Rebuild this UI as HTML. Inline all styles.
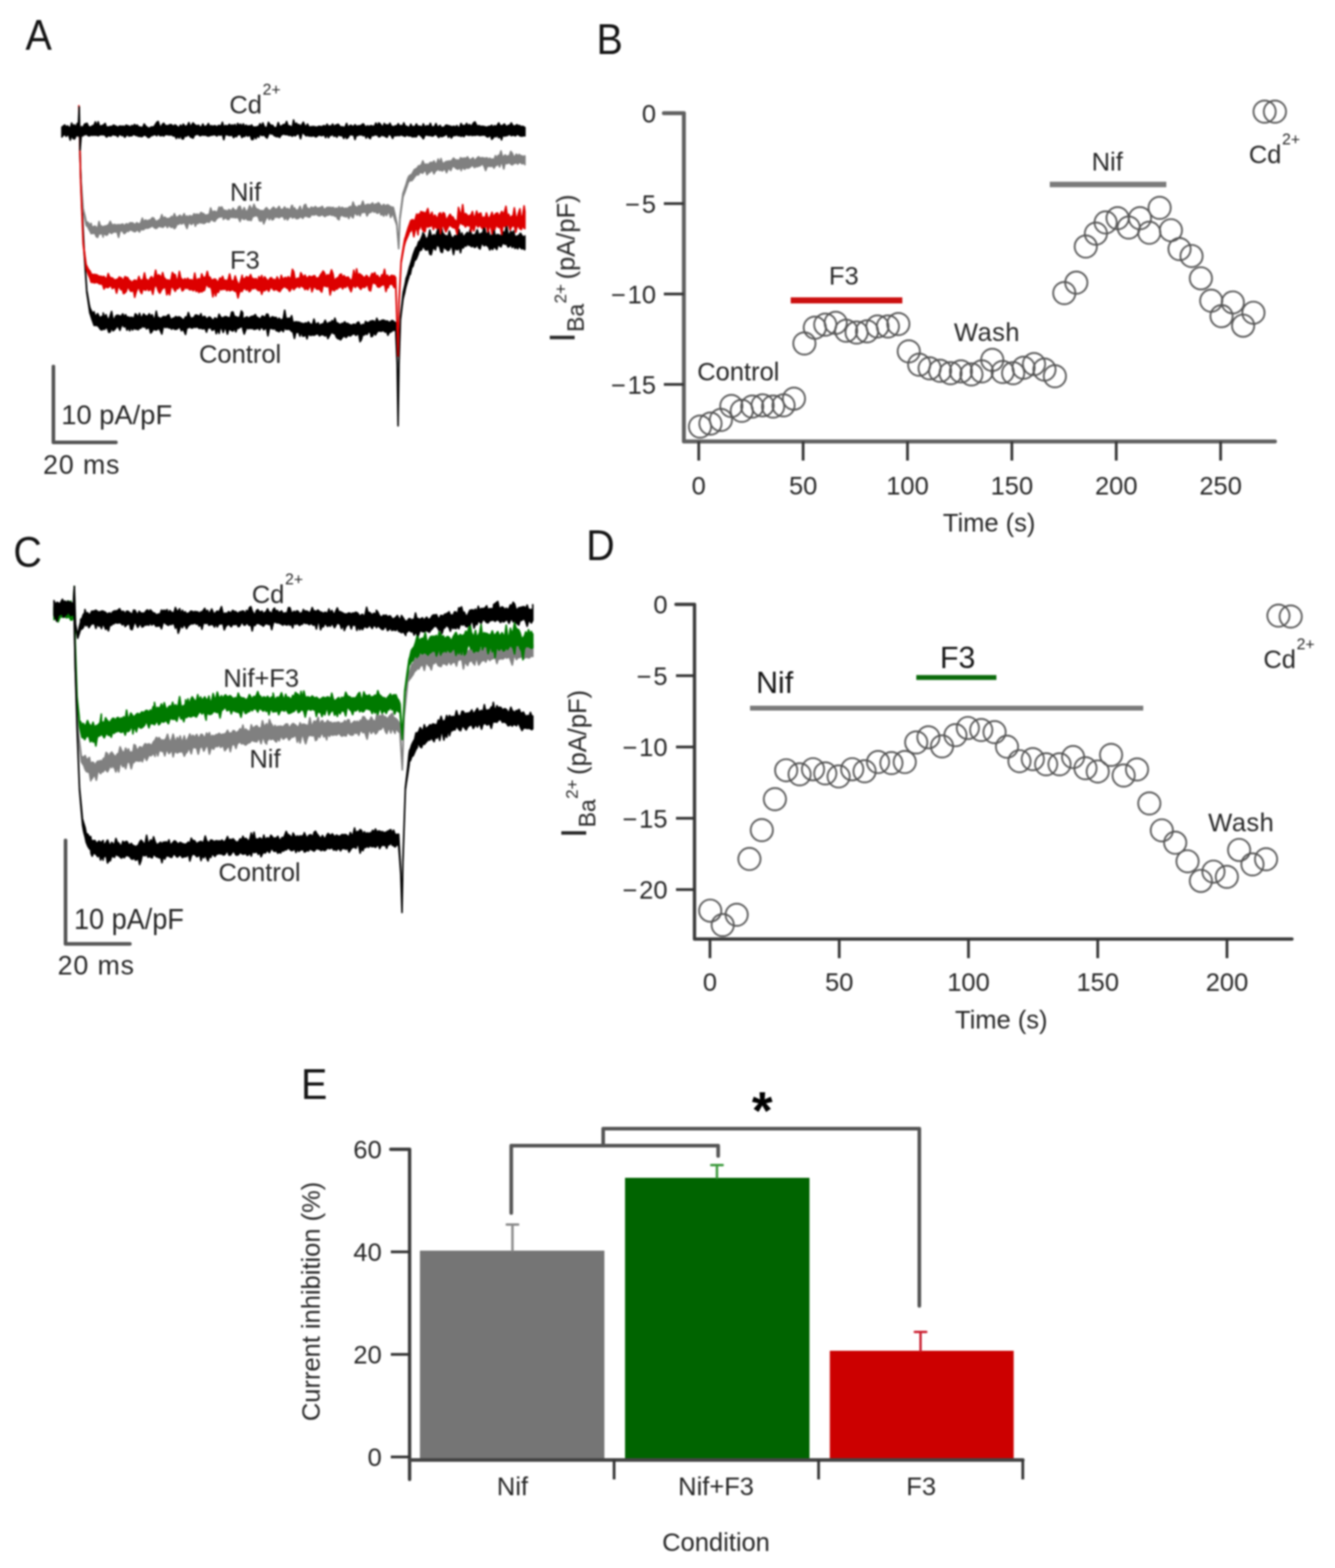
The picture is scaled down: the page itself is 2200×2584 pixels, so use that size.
<!DOCTYPE html>
<html lang="en">
<head>
<meta charset="utf-8">
<title>Figure: F3 and nifedipine inhibition of barium currents</title>
<style>
html,body{margin:0;padding:0;background:#fff;}
body{width:2200px;height:2584px;overflow:hidden;}
svg{display:block;font-family:'Liberation Sans', Arial, Helvetica, sans-serif;}
</style>
</head>
<body>
<svg width="2200" height="2584" viewBox="0 0 2200 2584">
<defs>
<filter id="soft" x="-2%" y="-2%" width="104%" height="104%" color-interpolation-filters="sRGB"><feGaussianBlur stdDeviation="1.5"/></filter>
</defs>
<rect x="0" y="0" width="2200" height="2584" fill="#ffffff"/>
<g filter="url(#soft)">
<g id="panelA">
<text transform="translate(42,82) scale(0.93,1)" font-size="70" fill="#141414">A</text>
<polygon points="131.0,215.2 132.0,258.2 133.3,292.9 135.0,338.2 135.6,350.2 137.9,396.2 139.0,418.2 140.2,436.2 142.5,470.7 143.0,478.2 144.8,488.6 147.1,502.6 148.0,506.4 149.4,510.2 151.7,514.2 154.0,517.0 155.0,513.8 156.3,519.1 158.6,520.5 160.9,516.8 163.2,521.4 165.5,524.1 167.8,521.2 170.0,524.3 170.1,515.9 172.4,523.9 174.7,518.6 177.0,524.9 179.3,526.7 181.6,520.2 183.9,513.3 186.2,525.5 188.5,526.0 190.8,520.8 193.1,519.5 195.4,519.9 197.7,520.7 200.0,521.0 202.3,517.3 204.6,522.6 206.9,518.7 209.2,523.1 211.5,522.2 213.8,523.9 216.1,522.8 218.4,523.8 220.7,524.8 223.0,517.2 225.3,519.1 227.6,524.1 229.9,516.4 232.2,523.8 234.5,521.8 236.8,517.4 239.1,520.2 241.4,520.7 243.7,520.8 246.0,517.1 248.3,522.0 250.6,518.8 252.9,524.8 255.2,525.0 257.5,512.9 259.8,523.6 262.1,523.3 264.4,525.4 266.7,523.7 269.0,521.8 271.3,521.7 273.6,522.8 275.9,520.1 278.2,518.7 280.5,524.7 282.8,526.5 285.1,524.4 287.4,524.2 289.7,521.6 292.0,523.5 294.3,522.1 296.6,522.8 298.9,524.6 301.2,527.0 303.5,526.4 305.8,522.1 308.1,523.8 310.4,515.1 312.7,521.6 315.0,525.3 317.3,523.8 319.6,523.4 321.9,519.4 324.2,519.3 326.5,520.4 328.8,522.0 331.1,517.0 333.4,525.2 335.7,521.6 338.0,521.8 340.3,526.6 342.6,524.0 344.9,522.4 347.2,523.7 349.5,527.0 351.8,527.6 354.1,523.8 356.4,525.2 358.7,526.2 361.0,517.8 363.3,522.2 365.6,523.9 367.9,523.7 370.2,522.1 372.5,521.7 374.8,523.1 377.1,523.4 379.4,524.3 381.7,514.6 384.0,514.2 386.3,521.6 388.6,521.8 390.9,522.9 393.2,523.8 395.5,521.8 397.8,512.4 400.0,515.4 400.1,525.1 402.4,524.7 404.7,523.3 407.0,522.2 409.3,524.9 411.6,523.0 413.9,521.8 416.2,521.2 418.5,520.6 420.8,518.5 423.1,522.8 425.4,523.4 427.7,526.2 430.0,524.2 432.3,520.8 434.6,521.7 436.9,524.1 439.2,517.9 441.5,517.9 443.8,524.1 446.1,524.9 448.4,522.1 450.7,522.8 453.0,523.2 455.3,523.2 457.6,528.5 459.9,524.4 462.2,526.8 464.5,527.1 466.8,525.4 469.1,511.3 470.0,516.1 471.4,524.6 473.7,525.1 476.0,524.4 478.3,525.5 480.6,520.3 482.9,531.7 485.2,531.1 487.5,530.4 489.8,530.7 492.1,530.9 494.4,531.6 495.0,533.3 496.7,532.6 499.0,533.3 501.3,533.8 503.6,532.1 505.9,533.6 508.2,530.4 510.5,533.6 512.8,534.9 515.1,534.3 517.4,525.9 519.7,534.3 522.0,533.9 524.3,532.0 526.6,537.9 528.9,534.6 531.2,533.9 533.5,533.1 535.8,527.8 538.1,532.8 540.4,533.7 542.7,531.1 545.0,531.9 547.3,528.3 549.6,531.7 551.9,524.4 554.2,532.2 556.5,532.2 558.8,534.5 560.0,534.3 561.1,535.9 563.4,532.8 565.7,533.4 568.0,530.3 570.3,533.5 572.6,532.8 574.9,534.4 577.2,535.3 579.5,536.5 581.8,534.5 584.1,534.4 586.4,536.0 588.7,531.9 591.0,530.5 593.3,535.2 595.6,537.0 597.9,534.4 600.2,536.9 602.5,529.7 604.8,532.1 607.1,531.2 609.4,531.3 610.0,529.4 611.7,529.3 614.0,528.6 616.3,529.2 618.6,532.8 620.9,524.5 623.2,529.7 625.5,529.6 627.8,528.9 630.1,527.5 632.0,528.2 632.4,527.5 634.7,529.0 637.0,529.0 639.3,529.6 641.6,532.2 643.9,530.0 646.2,528.1 648.5,529.6 650.8,531.4 652.0,531.6 653.1,561.1 654.5,598.2 655.4,658.2 656.0,698.2 657.5,598.2 657.7,592.2 660.0,523.2 662.3,501.6 664.0,486.2 664.6,481.3 666.9,471.5 668.0,466.6 669.2,459.1 671.5,453.0 673.8,444.2 675.0,439.5 676.1,436.4 678.4,428.5 680.7,420.3 683.0,413.8 685.3,408.1 687.6,405.8 689.9,398.3 690.0,398.8 692.2,396.6 694.5,391.8 696.8,385.9 697.0,383.6 699.1,386.2 701.4,393.1 703.7,393.3 706.0,389.9 708.3,379.1 710.6,387.8 712.9,389.1 715.2,386.7 717.5,391.1 719.8,383.2 722.1,376.1 724.4,390.4 726.7,365.5 729.0,382.7 731.3,385.9 733.6,388.5 735.9,388.5 738.2,390.4 740.5,380.8 742.8,388.4 745.1,391.9 747.4,391.6 749.7,388.2 752.0,392.2 754.3,380.7 756.6,378.3 758.9,389.6 760.0,390.0 761.2,383.8 763.5,390.5 765.8,388.6 768.1,385.3 770.4,383.0 772.7,387.8 775.0,377.9 777.3,388.3 779.6,386.8 781.9,387.7 784.2,384.5 786.5,378.7 788.8,386.8 791.1,385.6 793.4,384.8 795.7,382.9 798.0,372.8 800.3,383.5 802.6,387.2 804.9,380.0 807.2,390.2 809.5,387.6 811.8,390.2 814.1,377.4 816.4,390.9 818.7,386.9 821.0,386.6 823.3,387.6 825.6,390.4 827.9,381.0 830.2,383.0 832.5,382.5 834.8,370.9 837.1,385.2 839.4,386.7 841.7,381.2 844.0,385.4 846.3,380.5 848.6,390.2 850.9,389.4 853.2,388.8 855.5,387.2 857.8,384.3 860.1,388.3 862.4,390.1 864.7,392.9 865.0,388.8 865.0,410.0 864.7,411.5 862.4,409.1 860.1,410.2 857.8,408.2 855.5,404.9 853.2,410.1 850.9,406.8 848.6,409.4 846.3,403.7 844.0,407.8 841.7,402.1 839.4,406.0 837.1,407.0 834.8,401.7 832.5,402.6 830.2,401.1 827.9,401.2 825.6,406.8 823.3,405.1 821.0,402.5 818.7,411.2 816.4,408.2 814.1,406.2 811.8,411.2 809.5,407.5 807.2,411.9 804.9,406.4 802.6,405.0 800.3,402.5 798.0,405.1 795.7,402.1 793.4,401.7 791.1,410.3 788.8,408.4 786.5,402.1 784.2,406.8 781.9,407.7 779.6,404.3 777.3,406.7 775.0,404.3 772.7,404.3 770.4,401.6 768.1,405.7 765.8,404.2 763.5,408.6 761.2,407.4 760.0,411.1 758.9,416.6 756.6,405.6 754.3,411.5 752.0,411.1 749.7,406.8 747.4,419.4 745.1,408.0 742.8,405.5 740.5,411.4 738.2,413.2 735.9,410.8 733.6,409.4 731.3,404.3 729.0,416.1 726.7,415.1 724.4,406.7 722.1,404.9 719.8,403.1 717.5,411.9 715.2,408.4 712.9,410.3 710.6,419.8 708.3,418.8 706.0,408.2 703.7,412.0 701.4,411.8 699.1,408.2 697.0,403.9 696.8,405.8 694.5,412.0 692.2,412.6 690.0,414.9 689.9,416.7 687.6,422.9 685.3,427.9 683.0,429.5 680.7,438.5 678.4,441.5 676.1,452.1 675.0,451.3 673.8,456.1 671.5,463.7 669.2,471.7 668.0,476.3 666.9,482.2 664.6,490.9 664.0,494.0 662.3,507.8 660.0,526.8 657.7,595.8 657.5,601.8 656.0,701.8 655.4,661.8 654.5,601.8 653.1,568.9 652.0,543.2 650.8,544.3 648.5,544.1 646.2,545.3 643.9,547.2 641.6,547.4 639.3,552.5 637.0,546.0 634.7,547.3 632.4,545.1 632.0,544.7 630.1,545.2 627.8,546.0 625.5,545.5 623.2,545.3 620.9,548.0 618.6,552.0 616.3,546.9 614.0,553.9 611.7,554.7 610.0,546.2 609.4,547.4 607.1,547.0 604.8,551.2 602.5,549.1 600.2,552.1 597.9,551.1 595.6,559.7 593.3,563.1 591.0,549.5 588.7,551.0 586.4,552.7 584.1,549.5 581.8,550.5 579.5,551.6 577.2,553.8 574.9,552.0 572.6,553.7 570.3,556.2 568.0,554.1 565.7,554.2 563.4,557.2 561.1,560.1 560.0,552.7 558.8,558.7 556.5,557.8 554.2,555.3 551.9,549.5 549.6,549.7 547.3,547.2 545.0,549.5 542.7,553.6 540.4,558.0 538.1,550.4 535.8,553.7 533.5,551.9 531.2,551.5 528.9,551.5 526.6,553.5 524.3,550.2 522.0,549.9 519.7,551.4 517.4,552.5 515.1,551.7 512.8,552.6 510.5,552.2 508.2,549.3 505.9,558.4 503.6,550.9 501.3,553.7 499.0,554.0 496.7,548.4 495.0,550.0 494.4,554.0 492.1,547.2 489.8,547.7 487.5,547.7 485.2,557.7 482.9,547.3 480.6,546.2 478.3,543.5 476.0,542.3 473.7,542.8 471.4,542.8 470.0,538.8 469.1,539.5 466.8,546.5 464.5,543.4 462.2,544.2 459.9,546.7 457.6,545.4 455.3,544.8 453.0,540.4 450.7,542.4 448.4,541.5 446.1,540.7 443.8,542.3 441.5,553.5 439.2,540.2 436.9,541.6 434.6,543.4 432.3,539.8 430.0,539.4 427.7,543.6 425.4,539.9 423.1,541.7 420.8,542.3 418.5,542.9 416.2,540.5 413.9,541.5 411.6,540.4 409.3,541.8 407.0,538.9 404.7,544.5 402.4,550.5 400.1,542.2 400.0,537.2 397.8,538.6 395.5,539.0 393.2,541.1 390.9,540.5 388.6,546.9 386.3,540.1 384.0,545.4 381.7,544.7 379.4,543.2 377.1,542.1 374.8,550.7 372.5,542.6 370.2,540.0 367.9,547.8 365.6,541.4 363.3,539.4 361.0,549.4 358.7,541.1 356.4,549.9 354.1,540.0 351.8,543.2 349.5,544.3 347.2,539.4 344.9,540.5 342.6,539.9 340.3,547.4 338.0,541.3 335.7,541.4 333.4,542.0 331.1,540.2 328.8,541.4 326.5,539.7 324.2,538.2 321.9,539.7 319.6,538.3 317.3,540.7 315.0,540.4 312.7,538.1 310.4,540.3 308.1,539.4 305.8,551.1 303.5,546.0 301.2,542.0 298.9,545.1 296.6,539.7 294.3,539.8 292.0,542.0 289.7,542.7 287.4,542.5 285.1,539.9 282.8,542.5 280.5,539.9 278.2,540.4 275.9,538.4 273.6,539.7 271.3,539.0 269.0,538.8 266.7,550.4 264.4,545.3 262.1,541.0 259.8,542.5 257.5,543.9 255.2,543.3 252.9,541.9 250.6,546.4 248.3,548.9 246.0,540.4 243.7,540.1 241.4,541.9 239.1,537.5 236.8,539.1 234.5,536.8 232.2,540.7 229.9,540.6 227.6,543.3 225.3,541.9 223.0,542.4 220.7,540.1 218.4,543.9 216.1,538.3 213.8,545.0 211.5,539.4 209.2,544.0 206.9,536.4 204.6,538.8 202.3,535.2 200.0,537.3 197.7,544.3 195.4,539.6 193.1,536.8 190.8,540.8 188.5,543.5 186.2,545.1 183.9,539.0 181.6,547.0 179.3,547.7 177.0,541.0 174.7,539.5 172.4,542.8 170.1,539.0 170.0,542.5 167.8,543.7 165.5,542.8 163.2,539.1 160.9,536.6 158.6,536.3 156.3,536.2 155.0,536.1 154.0,533.0 151.7,526.9 149.4,519.7 148.0,515.5 147.1,509.4 144.8,493.6 143.0,481.8 142.5,474.3 140.2,439.8 139.0,421.8 137.9,399.8 135.6,353.8 135.0,341.8 133.3,296.5 132.0,261.8 131.0,218.8" fill="#000000" stroke="#000000" stroke-width="2.6" stroke-linejoin="round"/>
<polygon points="131.0,215.2 133.0,288.2 133.3,292.3 135.6,323.9 137.0,343.2 137.9,347.2 140.2,356.2 142.0,365.2 142.5,365.8 144.8,366.2 147.1,369.5 149.4,371.0 150.0,368.0 151.7,374.6 154.0,373.6 156.3,372.6 158.6,374.5 160.9,376.4 163.2,365.1 165.5,372.9 167.8,372.6 170.0,376.6 170.1,373.9 172.4,372.5 174.7,372.6 177.0,371.3 179.3,370.0 181.6,364.8 183.9,369.7 186.2,370.9 188.5,369.9 190.8,370.7 193.1,370.8 195.4,370.2 197.7,370.8 200.0,370.0 202.3,369.3 204.6,372.8 206.9,369.8 209.2,368.8 211.5,370.8 213.8,367.4 216.1,367.3 218.4,367.4 220.7,369.1 223.0,370.1 225.3,367.1 227.6,368.5 229.9,369.4 232.2,366.5 234.5,359.5 236.8,367.0 239.1,362.5 241.4,363.6 243.7,363.9 246.0,362.5 248.3,362.6 250.6,359.0 252.9,359.1 255.2,362.4 257.5,365.7 259.8,363.6 262.1,362.6 264.4,360.7 266.7,353.8 269.0,361.1 271.3,357.7 273.6,359.6 275.9,360.6 278.2,359.9 280.5,359.8 282.8,356.6 283.0,359.8 285.1,358.5 287.4,352.2 289.7,357.8 292.0,358.1 294.3,356.7 296.6,354.6 298.9,358.3 301.2,356.3 303.5,352.1 305.8,358.9 308.1,355.9 310.4,357.8 312.7,355.3 315.0,356.5 317.3,356.5 319.6,352.3 321.9,354.1 324.2,352.8 326.5,353.6 328.8,354.0 331.1,350.2 333.4,351.5 335.7,352.2 338.0,355.0 340.3,354.2 342.6,354.0 344.9,352.8 347.2,342.8 349.5,349.8 351.8,348.5 354.1,348.0 356.4,350.2 358.7,348.3 361.0,341.3 363.3,342.4 365.6,341.1 367.9,346.1 368.0,345.7 370.2,347.1 372.5,346.8 374.8,349.0 377.1,345.4 379.4,346.7 381.7,347.2 384.0,343.0 386.3,346.3 388.6,346.8 390.9,346.8 393.2,341.0 395.5,339.8 397.8,346.4 400.1,348.1 402.4,342.2 404.7,347.6 407.0,348.6 409.3,344.9 411.6,338.9 413.9,343.8 416.2,344.0 418.5,336.8 420.8,342.3 423.1,344.5 425.4,345.1 427.7,346.6 430.0,347.5 432.3,347.0 434.6,348.4 436.9,344.5 439.2,342.2 441.5,345.2 443.8,347.1 446.1,346.6 448.4,343.6 450.7,341.4 453.0,344.0 455.3,345.0 457.6,343.4 459.9,340.1 462.2,345.5 464.5,345.0 466.8,344.7 469.1,341.0 471.4,345.4 473.7,343.6 476.0,345.0 478.3,345.8 480.6,338.8 482.0,338.7 482.9,346.7 485.2,342.5 487.5,345.9 489.8,346.9 492.1,345.2 494.4,340.0 496.7,346.7 499.0,346.2 501.3,338.3 503.6,336.8 505.9,343.1 508.2,343.5 510.5,345.5 512.8,341.4 515.1,342.3 517.4,342.7 519.7,340.4 522.0,342.4 524.3,343.5 526.6,342.2 528.9,341.8 531.2,340.1 533.5,344.5 535.8,344.6 538.1,342.3 540.4,341.8 542.7,341.7 545.0,342.0 547.3,342.4 549.6,341.9 551.9,345.0 554.2,342.8 556.5,344.8 558.8,340.7 560.0,343.8 561.1,343.7 563.4,341.7 565.7,342.8 568.0,344.2 570.3,343.0 572.6,344.2 574.9,341.7 577.2,340.3 579.5,342.5 581.8,333.0 584.1,339.2 586.4,340.6 588.7,342.8 591.0,339.0 593.3,339.8 595.6,338.1 597.9,331.5 600.2,338.7 602.5,338.6 604.8,337.1 607.1,336.9 609.4,337.6 611.7,336.7 614.0,334.4 616.3,339.2 618.6,336.4 620.0,336.1 620.9,339.2 623.2,334.0 625.5,336.0 627.8,339.5 630.1,339.2 632.4,336.8 634.7,339.5 637.0,338.3 639.3,337.5 641.6,339.4 643.9,340.7 646.2,341.6 648.0,341.6 648.5,343.1 650.8,352.9 653.1,363.8 654.0,368.2 655.4,385.9 657.0,406.2 657.7,389.4 659.0,358.2 660.0,350.4 662.3,332.4 664.0,319.0 664.6,317.3 666.9,310.3 669.2,303.6 671.5,295.8 673.0,291.9 673.8,290.5 676.1,288.5 678.4,287.5 680.7,283.3 683.0,279.3 685.3,278.6 687.6,276.5 689.9,273.2 691.0,273.8 692.2,273.1 694.5,271.3 696.8,265.2 699.1,270.7 701.4,270.9 703.7,270.5 706.0,271.6 708.3,268.4 710.6,267.5 712.9,268.6 715.2,265.3 717.5,270.4 719.8,269.0 722.1,262.2 724.4,269.3 726.7,261.3 729.0,268.7 731.3,269.2 733.6,267.3 735.9,266.0 738.2,265.9 740.5,265.3 742.8,266.1 745.1,263.7 747.4,260.5 749.7,262.8 752.0,264.2 754.3,263.6 756.6,265.3 758.9,259.9 760.0,263.8 761.2,260.9 763.5,261.3 765.8,260.4 768.1,261.2 770.4,258.5 772.7,261.9 775.0,264.1 777.3,261.7 779.6,260.0 781.9,264.3 784.2,262.9 786.5,260.0 788.8,258.4 791.1,260.9 793.4,260.0 795.7,260.1 798.0,260.7 800.3,260.8 802.6,260.1 804.9,263.1 807.2,260.6 809.5,263.3 811.8,261.8 814.1,263.7 816.4,256.6 818.7,260.5 821.0,256.0 823.3,256.3 825.6,248.8 827.9,258.3 830.2,257.7 832.5,255.3 834.8,258.0 837.1,256.9 839.4,257.1 841.7,249.6 844.0,252.3 846.3,258.0 848.6,257.8 850.9,254.0 853.2,257.3 855.5,254.5 857.8,256.6 860.1,256.9 862.4,258.6 864.7,256.8 865.0,257.3 865.0,271.5 864.7,269.0 862.4,269.3 860.1,270.0 857.8,267.4 855.5,267.7 853.2,270.4 850.9,267.2 848.6,269.3 846.3,269.5 844.0,271.7 841.7,270.3 839.4,267.7 837.1,269.1 834.8,269.7 832.5,268.1 830.2,278.5 827.9,269.9 825.6,268.0 823.3,275.1 821.0,268.6 818.7,272.5 816.4,272.6 814.1,277.1 811.8,272.9 809.5,274.3 807.2,274.0 804.9,273.7 802.6,274.7 800.3,281.0 798.0,274.6 795.7,270.6 793.4,270.9 791.1,273.3 788.8,273.4 786.5,274.8 784.2,274.0 781.9,276.2 779.6,273.3 777.3,272.8 775.0,275.2 772.7,276.8 770.4,277.2 768.1,275.7 765.8,279.0 763.5,276.8 761.2,276.8 760.0,281.2 758.9,275.7 756.6,277.9 754.3,278.8 752.0,277.7 749.7,275.7 747.4,273.6 745.1,275.3 742.8,281.0 740.5,277.9 738.2,278.9 735.9,284.6 733.6,279.2 731.3,278.9 729.0,281.8 726.7,279.8 724.4,281.0 722.1,278.0 719.8,280.6 717.5,281.9 715.2,286.5 712.9,281.2 710.6,281.0 708.3,284.1 706.0,284.8 703.7,287.9 701.4,281.1 699.1,281.8 696.8,285.3 694.5,284.8 692.2,283.7 691.0,285.1 689.9,287.9 687.6,288.1 685.3,288.7 683.0,292.0 680.7,295.3 678.4,297.8 676.1,297.3 673.8,299.6 673.0,299.9 671.5,304.7 669.2,311.0 666.9,317.5 664.6,323.4 664.0,325.3 662.3,337.9 660.0,354.5 659.0,361.8 657.7,393.0 657.0,409.8 655.4,389.5 654.0,371.8 653.1,368.6 650.8,362.3 648.5,355.2 648.0,352.3 646.2,353.3 643.9,358.3 641.6,350.7 639.3,350.2 637.0,355.3 634.7,350.6 632.4,356.1 630.1,352.7 627.8,354.1 625.5,347.2 623.2,351.1 620.9,351.1 620.0,349.7 618.6,348.1 616.3,349.6 614.0,346.2 611.7,349.4 609.4,350.2 607.1,351.3 604.8,355.8 602.5,349.0 600.2,349.7 597.9,350.2 595.6,349.9 593.3,355.8 591.0,350.9 588.7,354.6 586.4,352.1 584.1,350.8 581.8,359.1 579.5,356.7 577.2,352.8 574.9,360.2 572.6,354.9 570.3,357.4 568.0,356.4 565.7,356.1 563.4,353.9 561.1,356.2 560.0,355.4 558.8,362.3 556.5,360.7 554.2,355.4 551.9,356.5 549.6,354.2 547.3,355.0 545.0,353.7 542.7,353.7 540.4,354.8 538.1,354.6 535.8,356.9 533.5,355.6 531.2,353.2 528.9,354.8 526.6,355.7 524.3,355.3 522.0,352.9 519.7,353.5 517.4,354.2 515.1,353.9 512.8,353.8 510.5,357.8 508.2,357.6 505.9,356.1 503.6,356.2 501.3,356.2 499.0,359.9 496.7,357.5 494.4,357.2 492.1,359.5 489.8,360.4 487.5,359.7 485.2,356.7 482.9,358.9 482.0,359.2 480.6,357.3 478.3,356.7 476.0,359.0 473.7,362.4 471.4,356.6 469.1,361.7 466.8,356.4 464.5,356.6 462.2,356.5 459.9,359.0 457.6,357.0 455.3,358.1 453.0,356.3 450.7,361.4 448.4,362.4 446.1,356.5 443.8,362.1 441.5,357.1 439.2,358.9 436.9,363.3 434.6,368.9 432.3,359.8 430.0,364.6 427.7,363.8 425.4,356.8 423.1,355.5 420.8,355.3 418.5,356.5 416.2,357.1 413.9,363.4 411.6,362.3 409.3,362.9 407.0,361.9 404.7,358.1 402.4,361.7 400.1,360.0 397.8,358.1 395.5,365.1 393.2,359.7 390.9,357.8 388.6,358.9 386.3,358.3 384.0,358.3 381.7,358.1 379.4,357.5 377.1,361.6 374.8,361.4 372.5,359.2 370.2,359.3 368.0,361.5 367.9,358.4 365.6,356.5 363.3,357.7 361.0,357.0 358.7,359.3 356.4,361.1 354.1,364.8 351.8,364.1 349.5,362.2 347.2,362.2 344.9,366.1 342.6,365.8 340.3,365.0 338.0,367.3 335.7,368.4 333.4,366.9 331.1,367.5 328.8,365.2 326.5,368.4 324.2,367.2 321.9,372.7 319.6,364.6 317.3,368.5 315.0,369.9 312.7,366.1 310.4,368.9 308.1,376.6 305.8,371.1 303.5,366.0 301.2,368.0 298.9,369.2 296.6,366.7 294.3,369.6 292.0,368.9 289.7,374.3 287.4,376.8 285.1,373.9 283.0,370.6 282.8,374.8 280.5,373.3 278.2,370.5 275.9,375.0 273.6,371.2 271.3,371.7 269.0,374.4 266.7,374.1 264.4,373.5 262.1,372.6 259.8,374.5 257.5,376.4 255.2,375.8 252.9,373.7 250.6,371.9 248.3,373.9 246.0,375.1 243.7,376.0 241.4,375.9 239.1,376.0 236.8,378.3 234.5,378.7 232.2,377.3 229.9,382.3 227.6,379.7 225.3,378.9 223.0,381.8 220.7,381.4 218.4,380.1 216.1,379.0 213.8,378.6 211.5,381.4 209.2,380.2 206.9,383.4 204.6,385.0 202.3,381.4 200.0,379.8 197.7,381.5 195.4,391.1 193.1,382.6 190.8,382.1 188.5,382.1 186.2,382.8 183.9,384.7 181.6,383.1 179.3,382.1 177.0,387.0 174.7,387.4 172.4,385.7 170.1,384.0 170.0,390.6 167.8,382.8 165.5,385.7 163.2,384.4 160.9,391.2 158.6,389.8 156.3,384.1 154.0,384.4 151.7,384.6 150.0,385.0 149.4,383.0 147.1,378.9 144.8,374.2 142.5,371.8 142.0,371.5 140.2,362.3 137.9,351.2 137.0,346.8 135.6,327.5 133.3,295.9 133.0,291.8 131.0,218.8" fill="#808080" stroke="#808080" stroke-width="2.6" stroke-linejoin="round"/>
<polygon points="130.0,174.2 131.0,215.2 132.3,269.2 133.0,298.2 134.6,338.2 136.9,395.7 137.0,398.2 139.2,415.1 141.5,432.8 142.0,436.2 143.8,439.8 146.1,444.3 148.4,446.8 150.0,450.6 150.7,451.5 153.0,452.6 155.3,452.2 157.6,452.6 159.9,453.0 162.2,454.7 164.5,455.5 166.8,455.4 169.1,456.4 171.4,455.6 173.7,458.4 176.0,459.7 178.3,450.8 180.6,456.4 182.9,457.9 185.2,458.1 187.5,460.3 189.8,461.6 192.1,460.5 194.4,460.0 196.7,456.3 199.0,459.1 200.0,457.8 201.3,460.6 203.6,461.4 205.9,455.9 208.2,456.9 210.5,457.5 212.8,461.9 215.1,462.9 217.4,466.3 219.7,463.0 222.0,461.5 224.3,462.7 226.6,462.9 228.9,455.6 231.2,461.9 233.5,461.4 235.8,460.8 238.1,449.7 240.4,460.4 242.7,461.0 245.0,463.7 247.3,458.8 249.6,455.8 251.9,459.7 254.2,457.6 256.5,445.2 258.8,457.7 261.1,452.9 263.4,453.9 265.7,459.7 268.0,449.2 270.3,457.5 272.6,459.7 274.9,462.1 277.2,461.1 279.5,463.4 281.8,460.4 284.1,449.1 286.4,452.2 288.7,452.6 291.0,462.2 293.3,459.7 295.6,447.4 297.9,458.2 300.2,460.2 302.5,462.0 304.8,459.2 307.1,462.8 309.4,458.3 311.7,462.1 314.0,460.8 316.3,461.4 318.6,463.9 320.9,450.1 323.2,461.9 325.5,460.5 327.8,459.0 330.1,463.2 332.4,451.4 334.7,457.0 337.0,457.4 339.3,456.2 341.6,447.3 343.9,456.6 346.2,456.8 348.5,461.7 350.8,461.2 353.1,459.9 355.4,460.3 357.7,464.0 360.0,464.3 362.3,458.2 364.6,460.3 366.9,455.4 369.2,463.0 371.5,461.7 373.8,463.8 376.1,460.0 378.4,451.6 380.7,461.4 383.0,463.2 385.3,462.9 387.6,454.7 389.9,462.1 392.2,467.3 394.5,469.4 396.8,461.7 399.1,453.7 400.0,463.3 401.4,459.1 403.7,459.6 406.0,455.9 408.3,457.0 410.6,457.5 412.9,452.5 415.2,458.7 417.5,459.1 419.8,460.1 422.1,459.2 424.4,464.8 426.7,455.8 429.0,460.8 431.3,454.0 433.6,463.7 435.9,456.2 438.2,458.9 440.5,462.3 442.8,462.1 445.1,458.3 447.4,457.5 449.7,461.7 452.0,460.3 454.3,463.4 456.6,456.3 458.9,460.6 461.2,463.8 463.5,453.7 465.8,460.5 468.1,458.6 470.4,457.2 472.7,459.5 475.0,455.9 477.3,458.5 479.6,457.6 481.9,443.9 484.2,447.9 486.5,461.4 488.8,459.5 491.1,458.3 493.4,460.4 495.7,449.4 498.0,453.5 500.3,457.6 502.6,453.4 504.9,457.6 507.2,458.3 509.5,455.0 511.8,456.0 514.1,456.4 516.4,454.7 518.7,454.3 521.0,459.2 523.3,458.0 525.6,457.9 527.9,453.2 530.2,450.2 532.5,446.6 534.8,449.7 537.1,457.8 539.4,452.8 541.7,454.2 544.0,452.2 546.3,444.7 548.6,450.6 550.9,463.3 553.2,459.9 555.5,458.1 557.8,457.1 560.1,452.5 562.4,451.7 564.7,457.9 567.0,454.2 569.3,457.6 571.6,457.0 573.9,456.5 576.2,460.2 578.5,463.1 580.8,458.7 583.1,445.3 585.4,459.9 587.7,443.1 590.0,455.6 592.3,451.0 594.6,452.9 596.9,454.6 599.2,457.3 601.5,457.2 603.8,453.9 606.1,455.9 608.4,460.4 610.7,455.9 613.0,450.7 615.3,452.2 617.6,449.3 619.9,455.8 622.2,454.0 624.5,457.5 626.8,459.3 629.1,452.9 631.4,453.8 633.7,443.8 636.0,458.3 638.3,453.4 640.0,455.9 640.6,456.6 642.9,456.0 645.2,453.8 647.5,454.2 649.8,454.5 652.0,457.8 652.1,461.2 654.4,535.0 654.5,538.2 656.0,583.2 656.7,543.5 657.5,498.2 659.0,469.1 661.0,430.2 661.3,428.4 663.6,414.0 665.9,399.9 667.0,393.7 668.2,390.5 670.5,382.4 672.8,374.9 675.1,368.6 677.0,363.3 677.4,365.2 679.7,361.8 682.0,364.3 684.3,361.2 686.6,352.8 688.9,359.3 690.0,352.6 691.2,357.7 693.5,348.7 695.8,349.5 698.1,349.7 700.4,352.3 702.7,349.4 705.0,343.7 707.3,354.1 709.6,354.8 711.9,349.8 714.2,360.5 716.5,354.4 718.8,357.4 721.1,361.5 723.4,352.4 725.7,350.7 728.0,357.3 730.3,350.4 732.6,352.1 734.9,362.0 737.2,360.3 739.5,356.5 741.8,353.1 744.1,357.2 746.4,357.6 748.7,362.0 751.0,363.6 753.3,368.1 755.6,341.8 757.9,350.4 760.2,354.1 762.5,337.3 764.8,355.8 767.1,351.9 769.4,353.8 771.7,356.8 774.0,355.1 776.3,354.1 778.6,348.6 780.9,359.9 783.2,356.0 785.5,347.8 787.8,355.2 790.1,351.9 792.4,351.2 794.7,360.9 797.0,357.7 799.3,360.5 801.6,350.9 803.9,358.1 806.2,359.8 808.5,355.7 810.8,349.9 813.1,358.7 815.4,353.8 817.7,351.5 820.0,350.9 822.3,357.4 824.6,352.5 826.9,348.3 829.2,353.0 831.5,348.9 833.8,339.9 836.1,355.7 838.4,353.1 840.7,360.1 843.0,356.4 845.3,356.0 847.6,342.6 849.9,356.7 852.2,359.5 854.5,350.9 856.8,344.1 859.1,363.0 861.4,354.0 863.7,339.3 865.0,348.6 865.0,376.8 863.7,376.1 861.4,370.9 859.1,378.4 856.8,376.9 854.5,372.8 852.2,372.9 849.9,382.7 847.6,372.3 845.3,372.3 843.0,373.4 840.7,379.4 838.4,371.8 836.1,370.5 833.8,372.1 831.5,373.3 829.2,368.5 826.9,386.7 824.6,374.7 822.3,375.0 820.0,373.6 817.7,370.0 815.4,378.4 813.1,374.9 810.8,385.5 808.5,369.9 806.2,375.0 803.9,382.5 801.6,371.6 799.3,374.4 797.0,372.8 794.7,376.5 792.4,373.2 790.1,370.5 787.8,374.3 785.5,370.2 783.2,371.0 780.9,380.7 778.6,371.0 776.3,381.5 774.0,368.3 771.7,372.3 769.4,369.8 767.1,374.2 764.8,370.4 762.5,370.0 760.2,368.6 757.9,366.3 755.6,373.0 753.3,386.0 751.0,377.0 748.7,375.4 746.4,375.0 744.1,373.2 741.8,371.1 739.5,372.5 737.2,377.4 734.9,382.2 732.6,377.0 730.3,370.2 728.0,374.3 725.7,385.2 723.4,367.0 721.1,376.6 718.8,375.7 716.5,371.2 714.2,378.3 711.9,368.5 709.6,373.2 707.3,373.2 705.0,374.4 702.7,369.7 700.4,381.9 698.1,381.0 695.8,377.6 693.5,368.4 691.2,377.2 690.0,372.7 688.9,387.0 686.6,374.3 684.3,379.2 682.0,390.2 679.7,377.6 677.4,377.8 677.0,380.9 675.1,381.5 672.8,387.8 670.5,392.8 668.2,398.1 667.0,402.1 665.9,406.3 663.6,419.1 661.3,432.1 661.0,433.8 659.0,472.7 657.5,501.8 656.7,547.1 656.0,586.8 654.5,541.8 654.4,538.9 652.1,470.5 652.0,468.3 649.8,474.0 647.5,469.9 645.2,467.5 642.9,468.5 640.6,469.8 640.0,473.9 638.3,472.6 636.0,480.4 633.7,467.7 631.4,469.4 629.1,469.6 626.8,471.8 624.5,473.3 622.2,472.6 619.9,467.8 617.6,467.3 615.3,465.4 613.0,468.0 610.7,479.5 608.4,478.1 606.1,469.4 603.8,470.4 601.5,473.2 599.2,473.5 596.9,472.4 594.6,476.9 592.3,474.0 590.0,471.3 587.7,470.8 585.4,473.7 583.1,469.8 580.8,473.1 578.5,480.8 576.2,475.7 573.9,471.0 571.6,471.0 569.3,473.7 567.0,471.4 564.7,476.2 562.4,471.4 560.1,473.4 557.8,473.5 555.5,476.6 553.2,475.8 550.9,479.2 548.6,477.6 546.3,476.1 544.0,486.1 541.7,469.3 539.4,472.4 537.1,472.0 534.8,471.0 532.5,470.6 530.2,481.4 527.9,478.4 525.6,475.9 523.3,476.8 521.0,475.5 518.7,471.9 516.4,474.4 514.1,480.9 511.8,470.1 509.5,473.2 507.2,477.6 504.9,474.4 502.6,477.3 500.3,472.9 498.0,472.4 495.7,470.1 493.4,474.2 491.1,470.8 488.8,473.0 486.5,474.3 484.2,477.4 481.9,471.9 479.6,476.5 477.3,480.0 475.0,475.9 472.7,474.6 470.4,473.2 468.1,472.0 465.8,474.4 463.5,476.6 461.2,480.5 458.9,479.3 456.6,477.6 454.3,476.3 452.0,478.4 449.7,476.5 447.4,472.4 445.1,475.4 442.8,480.1 440.5,476.2 438.2,477.2 435.9,479.3 433.6,477.7 431.3,485.0 429.0,476.4 426.7,479.1 424.4,477.9 422.1,475.2 419.8,474.5 417.5,475.9 415.2,474.0 412.9,479.2 410.6,480.6 408.3,475.3 406.0,478.1 403.7,474.3 401.4,476.3 400.0,477.3 399.1,480.3 396.8,479.1 394.5,482.2 392.2,491.0 389.9,480.8 387.6,480.1 385.3,478.9 383.0,476.3 380.7,478.5 378.4,479.1 376.1,476.5 373.8,479.0 371.5,475.5 369.2,477.0 366.9,476.1 364.6,477.7 362.3,474.8 360.0,481.9 357.7,479.1 355.4,487.7 353.1,475.3 350.8,489.3 348.5,476.0 346.2,472.0 343.9,473.2 341.6,469.8 339.3,470.1 337.0,478.4 334.7,479.2 332.4,481.1 330.1,479.9 327.8,482.1 325.5,478.1 323.2,480.3 320.9,474.8 318.6,479.2 316.3,476.7 314.0,477.5 311.7,477.1 309.4,473.6 307.1,475.4 304.8,472.7 302.5,477.9 300.2,479.3 297.9,472.6 295.6,472.2 293.3,475.8 291.0,475.1 288.7,480.1 286.4,476.1 284.1,472.8 281.8,473.6 279.5,485.9 277.2,479.1 274.9,485.8 272.6,472.5 270.3,474.3 268.0,475.2 265.7,478.6 263.4,483.3 261.1,480.1 258.8,473.0 256.5,469.6 254.2,473.3 251.9,485.1 249.6,476.7 247.3,477.3 245.0,479.0 242.7,474.0 240.4,478.3 238.1,477.7 235.8,474.9 233.5,483.9 231.2,480.3 228.9,473.1 226.6,476.1 224.3,481.4 222.0,490.0 219.7,476.6 217.4,480.1 215.1,479.8 212.8,475.6 210.5,472.1 208.2,479.9 205.9,482.6 203.6,484.0 201.3,476.5 200.0,473.9 199.0,477.4 196.7,472.6 194.4,473.6 192.1,483.1 189.8,473.9 187.5,473.8 185.2,475.6 182.9,470.6 180.6,471.7 178.3,473.8 176.0,473.8 173.7,471.7 171.4,476.4 169.1,469.2 166.8,467.9 164.5,468.0 162.2,466.7 159.9,465.3 157.6,465.7 155.3,466.2 153.0,465.0 150.7,465.4 150.0,464.7 148.4,458.8 146.1,453.8 143.8,447.9 142.0,442.9 141.5,439.2 139.2,420.6 137.0,401.8 136.9,399.3 134.6,341.8 133.0,301.8 132.3,272.8 131.0,218.8 130.0,177.8" fill="#dd0000" stroke="#dd0000" stroke-width="2.6" stroke-linejoin="round"/>
<polygon points="102.0,209.6 104.3,207.9 106.6,205.9 108.9,209.2 111.2,207.4 113.5,209.6 115.8,211.1 118.1,202.9 120.4,208.4 122.7,205.7 125.0,210.6 127.3,203.4 129.0,208.7 129.6,195.5 130.5,176.2 131.9,238.7 132.0,243.2 134.0,208.6 134.2,209.5 136.5,210.3 138.8,205.7 140.0,204.1 141.1,204.2 143.4,203.2 145.7,208.4 148.0,209.7 150.3,208.7 152.6,207.3 154.9,206.6 157.2,200.9 159.5,208.5 161.8,200.7 164.1,208.4 166.4,207.4 168.7,206.9 171.0,205.6 173.3,203.3 175.6,210.2 177.9,209.2 180.2,209.1 182.5,208.2 184.8,208.7 187.1,206.1 189.4,207.4 191.7,208.0 194.0,210.7 196.3,208.0 198.6,207.7 200.9,208.4 203.2,207.7 205.5,209.4 207.8,206.3 210.1,207.3 212.4,207.7 214.7,210.2 217.0,206.9 219.3,208.4 221.6,205.2 223.9,207.4 226.2,206.2 228.5,209.3 230.8,209.2 233.1,210.4 235.4,209.6 237.7,204.4 240.0,207.8 242.3,209.5 244.6,211.5 246.9,210.8 249.2,209.4 251.5,209.2 253.8,208.9 256.1,205.1 258.4,201.6 260.7,200.1 263.0,207.7 265.3,209.4 267.6,204.9 269.9,203.1 272.2,207.0 274.5,207.1 276.8,207.3 279.1,206.0 281.4,205.2 283.7,206.6 286.0,208.4 288.3,205.8 290.6,207.1 292.9,209.5 295.2,210.1 297.5,206.1 299.8,209.8 302.1,204.6 304.4,207.8 306.7,208.2 309.0,207.0 311.3,202.1 313.6,209.4 315.9,206.0 318.2,202.5 320.5,205.4 322.8,206.9 325.1,207.3 327.4,206.4 329.7,210.1 332.0,208.9 334.3,204.5 336.6,209.4 338.9,208.1 341.2,207.5 343.5,203.7 345.8,209.3 348.1,207.0 350.4,208.4 352.7,207.4 355.0,207.4 357.3,210.1 359.6,207.1 361.9,206.9 364.2,208.5 366.5,201.6 368.8,210.6 371.1,206.8 373.4,207.5 375.7,207.6 378.0,204.8 380.3,208.1 382.6,205.8 384.9,207.9 387.2,205.1 389.5,211.5 391.8,203.4 394.1,208.2 396.4,204.5 398.7,209.3 401.0,204.2 403.3,209.4 405.6,206.2 407.9,208.8 410.2,207.3 412.5,208.3 414.8,206.0 417.1,210.2 419.4,209.2 421.7,209.7 424.0,208.7 426.3,208.4 428.6,203.9 430.9,208.9 433.2,202.7 435.5,208.5 437.8,210.2 440.1,210.1 442.4,201.6 444.7,205.1 447.0,206.9 449.3,206.6 451.6,209.9 453.9,210.7 456.2,209.7 458.5,202.0 460.8,208.0 463.1,208.1 465.4,206.6 467.7,205.0 470.0,205.8 472.3,200.2 474.6,207.1 476.9,207.5 479.2,208.3 481.5,210.8 483.8,197.8 486.1,206.4 488.4,202.9 490.7,206.1 493.0,205.4 495.3,208.8 497.6,205.1 499.9,201.4 502.2,207.0 504.5,208.6 506.8,204.5 509.1,209.4 511.4,209.2 513.7,208.8 516.0,208.5 518.3,208.8 520.6,209.5 522.9,209.6 525.2,208.2 527.5,208.2 529.8,209.4 532.1,207.7 534.4,207.0 536.7,209.5 539.0,204.7 541.3,208.8 543.6,207.5 545.9,208.4 548.2,204.5 550.5,209.4 552.8,206.5 555.1,205.7 557.4,204.8 559.7,207.8 562.0,209.8 564.3,208.9 566.6,210.5 568.9,208.7 571.2,203.4 573.5,209.7 575.8,207.9 578.1,206.4 580.4,208.1 582.7,208.5 585.0,205.6 587.3,208.2 589.6,207.7 591.9,207.2 594.2,207.5 596.5,205.4 598.8,204.1 601.1,207.8 603.4,209.3 605.7,207.3 608.0,209.1 610.3,207.4 612.6,207.3 614.9,208.4 617.2,207.6 619.5,202.8 621.8,208.4 624.1,202.7 626.4,204.2 628.7,207.2 631.0,209.8 633.3,203.4 635.6,206.9 637.9,205.5 640.2,208.0 642.5,203.0 644.8,207.9 647.1,208.6 649.4,208.8 651.7,207.2 654.0,207.9 656.3,203.8 658.6,208.3 660.9,206.7 663.2,209.0 665.5,202.5 667.8,207.7 670.1,208.0 672.4,209.5 674.7,210.0 677.0,204.7 679.3,209.4 681.6,208.6 683.9,208.8 686.2,204.3 688.5,208.3 690.8,208.1 693.1,208.2 695.4,210.6 697.7,204.2 700.0,209.9 702.3,207.8 704.6,207.3 706.9,208.8 709.2,203.3 711.5,209.4 713.8,209.2 716.1,208.6 718.4,203.7 720.7,209.1 723.0,208.7 725.3,206.6 727.6,211.0 729.9,209.7 732.2,209.7 734.5,206.5 736.8,206.4 739.1,207.3 741.4,207.8 743.7,208.7 746.0,208.7 748.3,208.1 750.6,209.8 752.9,207.0 755.2,210.1 757.5,209.9 759.8,203.5 762.1,207.9 764.4,206.7 766.7,207.7 769.0,203.3 771.3,208.4 773.6,205.2 775.9,208.1 778.2,206.2 780.5,202.3 782.8,201.0 785.1,205.8 787.4,208.1 789.7,206.9 792.0,208.8 794.3,208.0 796.6,208.4 798.9,208.7 801.2,210.0 803.5,209.1 805.8,208.2 808.1,208.4 810.4,206.3 812.7,210.5 815.0,207.0 817.3,208.8 819.6,206.3 821.9,202.7 824.2,207.2 826.5,207.0 828.8,206.7 831.1,204.3 833.4,207.4 835.7,208.6 838.0,206.6 840.3,206.5 842.6,202.6 844.9,206.9 847.2,207.9 849.5,207.2 851.8,205.4 854.1,207.2 856.4,206.8 858.7,209.2 861.0,208.1 863.3,209.2 865.0,210.2 865.0,223.9 863.3,223.2 861.0,224.2 858.7,224.3 856.4,223.6 854.1,221.7 851.8,221.1 849.5,223.9 847.2,223.0 844.9,222.5 842.6,223.6 840.3,221.1 838.0,222.1 835.7,223.3 833.4,223.7 831.1,224.3 828.8,221.9 826.5,230.5 824.2,223.7 821.9,227.0 819.6,221.7 817.3,225.5 815.0,223.7 812.7,227.4 810.4,229.7 808.1,221.7 805.8,224.8 803.5,225.7 801.2,224.3 798.9,221.8 796.6,222.7 794.3,222.3 792.0,223.3 789.7,222.9 787.4,222.3 785.1,222.3 782.8,223.1 780.5,222.4 778.2,223.4 775.9,221.8 773.6,223.0 771.3,222.8 769.0,221.6 766.7,222.2 764.4,225.1 762.1,223.1 759.8,224.8 757.5,223.0 755.2,223.8 752.9,221.6 750.6,223.2 748.3,222.9 746.0,224.0 743.7,227.5 741.4,222.3 739.1,226.2 736.8,221.2 734.5,221.8 732.2,223.6 729.9,224.3 727.6,225.3 725.3,223.3 723.0,226.5 720.7,223.5 718.4,221.1 716.1,222.1 713.8,223.9 711.5,224.1 709.2,222.9 706.9,223.3 704.6,222.7 702.3,222.0 700.0,223.4 697.7,228.7 695.4,225.6 693.1,223.6 690.8,221.6 688.5,221.6 686.2,225.2 683.9,225.1 681.6,225.0 679.3,225.5 677.0,223.3 674.7,224.1 672.4,223.5 670.1,221.9 667.8,224.7 665.5,223.8 663.2,223.1 660.9,221.6 658.6,223.4 656.3,223.0 654.0,223.1 651.7,223.8 649.4,222.3 647.1,228.1 644.8,223.7 642.5,221.3 640.2,221.9 637.9,226.2 635.6,225.2 633.3,223.3 631.0,223.5 628.7,221.5 626.4,224.9 624.1,225.4 621.8,221.8 619.5,222.5 617.2,221.5 614.9,223.7 612.6,221.9 610.3,228.4 608.0,227.0 605.7,221.9 603.4,227.5 601.1,221.1 598.8,223.8 596.5,221.8 594.2,222.5 591.9,221.4 589.6,223.5 587.3,222.5 585.0,229.9 582.7,221.6 580.4,222.6 578.1,221.2 575.8,222.9 573.5,226.7 571.2,228.3 568.9,222.6 566.6,228.1 564.3,223.5 562.0,223.5 559.7,223.3 557.4,221.7 555.1,226.1 552.8,222.5 550.5,224.7 548.2,220.5 545.9,223.2 543.6,222.3 541.3,226.9 539.0,220.3 536.7,226.7 534.4,221.9 532.1,222.9 529.8,223.5 527.5,222.7 525.2,222.2 522.9,224.2 520.6,225.6 518.3,224.1 516.0,223.4 513.7,224.5 511.4,223.8 509.1,224.1 506.8,222.6 504.5,223.8 502.2,221.6 499.9,219.1 497.6,219.6 495.3,228.6 493.0,221.0 490.7,220.2 488.4,221.9 486.1,223.9 483.8,221.8 481.5,224.6 479.2,222.4 476.9,223.3 474.6,222.2 472.3,221.4 470.0,221.8 467.7,220.4 465.4,221.6 463.1,222.7 460.8,226.5 458.5,224.5 456.2,225.2 453.9,224.2 451.6,223.3 449.3,219.9 447.0,221.0 444.7,218.3 442.4,222.2 440.1,227.6 437.8,225.6 435.5,222.5 433.2,222.9 430.9,223.1 428.6,219.9 426.3,226.1 424.0,222.9 421.7,228.5 419.4,222.9 417.1,229.8 414.8,230.0 412.5,223.1 410.2,223.3 407.9,224.3 405.6,220.8 403.3,224.9 401.0,224.2 398.7,226.7 396.4,221.2 394.1,221.7 391.8,222.0 389.5,225.2 387.2,224.0 384.9,226.8 382.6,222.0 380.3,223.1 378.0,223.3 375.7,222.5 373.4,221.7 371.1,221.2 368.8,230.2 366.5,221.3 364.2,222.2 361.9,222.7 359.6,221.4 357.3,224.1 355.0,222.2 352.7,221.8 350.4,222.4 348.1,222.6 345.8,223.4 343.5,224.3 341.2,223.8 338.9,222.2 336.6,222.8 334.3,222.3 332.0,222.5 329.7,223.8 327.4,221.9 325.1,221.0 322.8,221.7 320.5,222.7 318.2,227.6 315.9,226.5 313.6,225.6 311.3,222.1 309.0,222.9 306.7,224.6 304.4,223.4 302.1,228.9 299.8,228.6 297.5,221.4 295.2,227.7 292.9,223.1 290.6,228.3 288.3,223.4 286.0,224.2 283.7,222.6 281.4,222.1 279.1,222.5 276.8,221.9 274.5,221.6 272.2,221.6 269.9,224.2 267.6,222.3 265.3,223.8 263.0,223.0 260.7,219.8 258.4,223.7 256.1,221.8 253.8,221.7 251.5,223.2 249.2,223.3 246.9,225.5 244.6,226.7 242.3,224.6 240.0,223.0 237.7,222.0 235.4,224.1 233.1,225.3 230.8,224.2 228.5,224.7 226.2,223.1 223.9,223.1 221.6,221.7 219.3,221.5 217.0,223.8 214.7,223.6 212.4,224.3 210.1,221.0 207.8,223.5 205.5,226.1 203.2,222.6 200.9,223.5 198.6,221.5 196.3,221.6 194.0,225.2 191.7,222.5 189.4,222.7 187.1,221.8 184.8,222.1 182.5,224.3 180.2,223.6 177.9,223.6 175.6,225.9 173.3,222.8 171.0,222.0 168.7,221.8 166.4,221.9 164.1,222.2 161.8,223.8 159.5,222.3 157.2,223.0 154.9,222.3 152.6,223.1 150.3,222.2 148.0,223.7 145.7,223.7 143.4,221.5 141.1,220.8 140.0,222.3 138.8,220.2 136.5,224.2 134.2,221.1 134.0,221.4 132.0,246.8 131.9,242.3 130.5,179.8 129.6,205.9 129.0,224.3 127.3,222.5 125.0,224.6 122.7,229.1 120.4,228.1 118.1,222.1 115.8,230.8 113.5,223.4 111.2,221.7 108.9,224.6 106.6,220.8 104.3,222.9 102.0,225.8" fill="#000000" stroke="#000000" stroke-width="2.6" stroke-linejoin="round"/>
<text x="378" y="187" font-size="42" fill="#262626">Cd<tspan dy="-31" dx="1" font-size="26">2+</tspan></text>
<text x="379" y="331" font-size="42" text-anchor="start" fill="#262626">Nif</text>
<text x="379" y="443" font-size="42" text-anchor="start" fill="#262626">F3</text>
<text x="328" y="598" font-size="42" text-anchor="start" fill="#262626">Control</text>
<path d="M88,604 L88,729 L191,729" fill="none" stroke="#555" stroke-width="6" stroke-linejoin="round" stroke-linecap="round" stroke-linecap="butt"/>
<text x="101" y="699" font-size="45" text-anchor="start" fill="#262626">10 pA/pF</text>
<text x="71" y="781" font-size="44" text-anchor="start" fill="#262626" letter-spacing="1.5">20 ms</text>
</g>
<g id="panelB">
<text transform="translate(983,89) scale(0.93,1)" font-size="70" fill="#141414">B</text>
<path d="M1094,186.5 L1127,186.5 L1127,727.5 L2101,727.5" fill="none" stroke="#606060" stroke-width="6.5" stroke-linejoin="round" stroke-linecap="round" stroke-linecap="butt" stroke-linejoin="miter"/>
<text x="1081" y="201.5" font-size="42" text-anchor="end" fill="#262626">0</text>
<line x1="1094" y1="335.5" x2="1127" y2="335.5" stroke="#333333" stroke-width="4.5" stroke-linecap="butt"/>
<text x="1081" y="350.5" font-size="42" text-anchor="end" fill="#262626">−<tspan dx="3">5</tspan></text>
<line x1="1094" y1="484.5" x2="1127" y2="484.5" stroke="#333333" stroke-width="4.5" stroke-linecap="butt"/>
<text x="1081" y="499.5" font-size="42" text-anchor="end" fill="#262626">−<tspan dx="3">10</tspan></text>
<line x1="1094" y1="633.5" x2="1127" y2="633.5" stroke="#333333" stroke-width="4.5" stroke-linecap="butt"/>
<text x="1081" y="648.5" font-size="42" text-anchor="end" fill="#262626">−<tspan dx="3">15</tspan></text>
<line x1="1151.5" y1="727.5" x2="1151.5" y2="759" stroke="#333333" stroke-width="4.5" stroke-linecap="butt"/>
<text x="1151.5" y="815" font-size="42" text-anchor="middle" fill="#262626">0</text>
<line x1="1323.5" y1="727.5" x2="1323.5" y2="759" stroke="#333333" stroke-width="4.5" stroke-linecap="butt"/>
<text x="1323.5" y="815" font-size="42" text-anchor="middle" fill="#262626">50</text>
<line x1="1495.5" y1="727.5" x2="1495.5" y2="759" stroke="#333333" stroke-width="4.5" stroke-linecap="butt"/>
<text x="1495.5" y="815" font-size="42" text-anchor="middle" fill="#262626">100</text>
<line x1="1667.5" y1="727.5" x2="1667.5" y2="759" stroke="#333333" stroke-width="4.5" stroke-linecap="butt"/>
<text x="1667.5" y="815" font-size="42" text-anchor="middle" fill="#262626">150</text>
<line x1="1839.5" y1="727.5" x2="1839.5" y2="759" stroke="#333333" stroke-width="4.5" stroke-linecap="butt"/>
<text x="1839.5" y="815" font-size="42" text-anchor="middle" fill="#262626">200</text>
<line x1="2011.5" y1="727.5" x2="2011.5" y2="759" stroke="#333333" stroke-width="4.5" stroke-linecap="butt"/>
<text x="2011.5" y="815" font-size="42" text-anchor="middle" fill="#262626">250</text>
<text x="1630" y="876" font-size="42" text-anchor="middle" fill="#262626">Time (s)</text>
<g transform="translate(947,564.5) rotate(-90)" fill="#262626">
<text x="0" y="0" font-size="60">I</text>
<text x="17.5" y="15" font-size="38">Ba</text>
<text x="64.5" y="-14" font-size="28">2+</text>
<text x="104" y="0" font-size="42">(pA/pF)</text>
</g>
<line x1="1303" y1="495" x2="1487" y2="495" stroke="#cc1010" stroke-width="10" stroke-linecap="butt"/>
<line x1="1730" y1="304" x2="1922" y2="304" stroke="#7a7a7a" stroke-width="9" stroke-linecap="butt"/>
<text x="1366" y="469" font-size="42" text-anchor="start" fill="#262626">F3</text>
<text x="1799" y="281" font-size="42" text-anchor="start" fill="#262626">Nif</text>
<text x="1149" y="627" font-size="42" text-anchor="start" fill="#262626">Control</text>
<text x="1572" y="562" font-size="42" text-anchor="start" fill="#262626" letter-spacing="0.8">Wash</text>
<text x="2058" y="269" font-size="42" fill="#262626">Cd<tspan dy="-31" dx="1" font-size="26">2+</tspan></text>
<circle cx="1153.6" cy="703.0" r="18.3" fill="none" stroke="#555555" stroke-width="2.9"/>
<circle cx="1170.8" cy="698.0" r="18.3" fill="none" stroke="#555555" stroke-width="2.9"/>
<circle cx="1188.0" cy="692.0" r="18.3" fill="none" stroke="#555555" stroke-width="2.9"/>
<circle cx="1205.2" cy="669.0" r="18.3" fill="none" stroke="#555555" stroke-width="2.9"/>
<circle cx="1222.4" cy="677.0" r="18.3" fill="none" stroke="#555555" stroke-width="2.9"/>
<circle cx="1239.6" cy="670.0" r="18.3" fill="none" stroke="#555555" stroke-width="2.9"/>
<circle cx="1256.8" cy="668.0" r="18.3" fill="none" stroke="#555555" stroke-width="2.9"/>
<circle cx="1274.0" cy="670.0" r="18.3" fill="none" stroke="#555555" stroke-width="2.9"/>
<circle cx="1291.2" cy="668.0" r="18.3" fill="none" stroke="#555555" stroke-width="2.9"/>
<circle cx="1308.4" cy="657.0" r="18.3" fill="none" stroke="#555555" stroke-width="2.9"/>
<circle cx="1325.6" cy="566.0" r="18.3" fill="none" stroke="#555555" stroke-width="2.9"/>
<circle cx="1342.8" cy="540.0" r="18.3" fill="none" stroke="#555555" stroke-width="2.9"/>
<circle cx="1360.0" cy="535.0" r="18.3" fill="none" stroke="#555555" stroke-width="2.9"/>
<circle cx="1377.2" cy="532.0" r="18.3" fill="none" stroke="#555555" stroke-width="2.9"/>
<circle cx="1394.4" cy="545.0" r="18.3" fill="none" stroke="#555555" stroke-width="2.9"/>
<circle cx="1411.6" cy="548.0" r="18.3" fill="none" stroke="#555555" stroke-width="2.9"/>
<circle cx="1428.8" cy="546.0" r="18.3" fill="none" stroke="#555555" stroke-width="2.9"/>
<circle cx="1446.0" cy="538.0" r="18.3" fill="none" stroke="#555555" stroke-width="2.9"/>
<circle cx="1463.2" cy="538.0" r="18.3" fill="none" stroke="#555555" stroke-width="2.9"/>
<circle cx="1480.4" cy="534.0" r="18.3" fill="none" stroke="#555555" stroke-width="2.9"/>
<circle cx="1497.6" cy="579.0" r="18.3" fill="none" stroke="#555555" stroke-width="2.9"/>
<circle cx="1514.8" cy="601.0" r="18.3" fill="none" stroke="#555555" stroke-width="2.9"/>
<circle cx="1532.0" cy="607.0" r="18.3" fill="none" stroke="#555555" stroke-width="2.9"/>
<circle cx="1549.2" cy="611.0" r="18.3" fill="none" stroke="#555555" stroke-width="2.9"/>
<circle cx="1566.4" cy="615.0" r="18.3" fill="none" stroke="#555555" stroke-width="2.9"/>
<circle cx="1583.6" cy="612.0" r="18.3" fill="none" stroke="#555555" stroke-width="2.9"/>
<circle cx="1600.8" cy="617.0" r="18.3" fill="none" stroke="#555555" stroke-width="2.9"/>
<circle cx="1618.0" cy="612.0" r="18.3" fill="none" stroke="#555555" stroke-width="2.9"/>
<circle cx="1635.2" cy="593.0" r="18.3" fill="none" stroke="#555555" stroke-width="2.9"/>
<circle cx="1652.4" cy="613.0" r="18.3" fill="none" stroke="#555555" stroke-width="2.9"/>
<circle cx="1669.6" cy="615.0" r="18.3" fill="none" stroke="#555555" stroke-width="2.9"/>
<circle cx="1686.8" cy="606.0" r="18.3" fill="none" stroke="#555555" stroke-width="2.9"/>
<circle cx="1704.0" cy="600.0" r="18.3" fill="none" stroke="#555555" stroke-width="2.9"/>
<circle cx="1721.2" cy="609.0" r="18.3" fill="none" stroke="#555555" stroke-width="2.9"/>
<circle cx="1738.4" cy="620.0" r="18.3" fill="none" stroke="#555555" stroke-width="2.9"/>
<circle cx="1753.9" cy="483.0" r="18.3" fill="none" stroke="#555555" stroke-width="2.9"/>
<circle cx="1773.7" cy="465.8" r="18.3" fill="none" stroke="#555555" stroke-width="2.9"/>
<circle cx="1789.3" cy="406.3" r="18.3" fill="none" stroke="#555555" stroke-width="2.9"/>
<circle cx="1806.0" cy="385.0" r="18.3" fill="none" stroke="#555555" stroke-width="2.9"/>
<circle cx="1822.0" cy="366.6" r="18.3" fill="none" stroke="#555555" stroke-width="2.9"/>
<circle cx="1841.7" cy="359.5" r="18.3" fill="none" stroke="#555555" stroke-width="2.9"/>
<circle cx="1860.0" cy="375.0" r="18.3" fill="none" stroke="#555555" stroke-width="2.9"/>
<circle cx="1878.6" cy="359.5" r="18.3" fill="none" stroke="#555555" stroke-width="2.9"/>
<circle cx="1894.0" cy="383.6" r="18.3" fill="none" stroke="#555555" stroke-width="2.9"/>
<circle cx="1911.0" cy="342.5" r="18.3" fill="none" stroke="#555555" stroke-width="2.9"/>
<circle cx="1929.6" cy="379.4" r="18.3" fill="none" stroke="#555555" stroke-width="2.9"/>
<circle cx="1943.8" cy="410.5" r="18.3" fill="none" stroke="#555555" stroke-width="2.9"/>
<circle cx="1963.6" cy="421.9" r="18.3" fill="none" stroke="#555555" stroke-width="2.9"/>
<circle cx="1979.0" cy="458.7" r="18.3" fill="none" stroke="#555555" stroke-width="2.9"/>
<circle cx="1996.0" cy="495.6" r="18.3" fill="none" stroke="#555555" stroke-width="2.9"/>
<circle cx="2013.0" cy="521.0" r="18.3" fill="none" stroke="#555555" stroke-width="2.9"/>
<circle cx="2031.6" cy="498.4" r="18.3" fill="none" stroke="#555555" stroke-width="2.9"/>
<circle cx="2048.6" cy="536.7" r="18.3" fill="none" stroke="#555555" stroke-width="2.9"/>
<circle cx="2065.6" cy="515.4" r="18.3" fill="none" stroke="#555555" stroke-width="2.9"/>
<circle cx="2084.0" cy="184.0" r="18.3" fill="none" stroke="#555555" stroke-width="2.9"/>
<circle cx="2101.0" cy="184.0" r="18.3" fill="none" stroke="#555555" stroke-width="2.9"/>
</g>
<g id="panelC">
<text transform="translate(22,934) scale(0.93,1)" font-size="70" fill="#141414">C</text>
<polygon points="122.0,1004.2 124.0,1098.2 124.3,1105.7 126.6,1163.2 128.0,1198.2 128.9,1205.3 131.2,1223.1 133.5,1242.1 134.0,1246.6 135.8,1247.1 138.1,1247.5 140.4,1245.2 142.7,1251.8 145.0,1250.7 147.3,1248.1 149.6,1260.9 150.0,1259.1 151.9,1256.0 154.2,1256.8 156.5,1261.6 158.8,1257.2 161.1,1254.4 163.4,1254.8 165.7,1253.3 168.0,1255.4 170.3,1249.9 172.6,1249.9 174.9,1240.0 177.2,1242.1 179.5,1248.9 181.8,1241.3 184.0,1243.2 184.1,1239.4 186.4,1242.8 188.7,1245.8 191.0,1246.4 193.3,1242.4 195.6,1241.5 197.9,1230.8 200.2,1236.2 202.5,1239.5 204.8,1239.7 207.1,1232.8 209.4,1239.4 211.7,1234.2 214.0,1241.0 216.3,1239.1 218.6,1240.8 219.0,1239.3 220.9,1227.1 223.2,1228.3 225.5,1236.3 227.8,1234.9 230.1,1230.9 232.4,1231.3 234.7,1234.0 237.0,1228.6 239.3,1225.6 241.6,1226.7 243.9,1226.7 245.0,1225.9 246.2,1226.0 248.5,1228.1 250.8,1226.9 253.1,1222.1 255.4,1219.8 257.7,1215.2 260.0,1217.1 262.0,1217.3 262.3,1215.5 264.6,1219.5 266.9,1219.6 269.2,1219.9 271.5,1219.5 273.8,1216.4 276.1,1210.0 278.4,1218.7 280.7,1223.4 283.0,1217.6 285.3,1209.9 287.6,1218.2 288.0,1221.1 289.9,1221.2 292.2,1215.2 294.5,1222.1 296.8,1212.7 299.1,1221.2 301.4,1220.4 303.7,1212.7 306.0,1221.9 308.3,1219.6 310.6,1215.2 312.9,1209.6 315.2,1216.4 317.5,1211.7 319.8,1213.5 322.1,1215.2 323.0,1211.5 324.4,1210.4 326.7,1216.0 329.0,1214.8 331.3,1210.0 333.6,1210.8 335.9,1214.8 338.2,1214.7 340.5,1208.0 342.8,1212.8 345.1,1207.4 347.4,1216.5 349.7,1212.0 352.0,1213.2 354.3,1212.3 356.6,1210.6 358.9,1210.4 361.2,1208.4 363.5,1211.1 365.8,1210.2 368.1,1209.9 370.4,1209.5 372.7,1207.9 375.0,1203.5 377.3,1209.0 379.6,1208.0 381.9,1208.4 384.2,1204.1 386.5,1204.5 388.8,1208.7 391.1,1206.1 393.4,1204.9 395.7,1200.9 398.0,1204.6 400.3,1194.9 402.6,1206.3 404.9,1201.3 407.2,1203.7 409.5,1204.4 411.8,1207.0 414.1,1194.5 416.4,1200.4 418.7,1198.7 421.0,1197.0 423.3,1195.9 425.6,1199.2 427.9,1199.6 430.2,1200.4 432.5,1187.9 434.8,1196.2 437.1,1195.8 439.4,1192.6 440.0,1197.3 441.7,1199.0 444.0,1185.9 446.3,1191.9 448.6,1195.2 450.9,1200.3 453.2,1195.4 455.5,1199.6 457.8,1196.7 460.1,1197.5 462.4,1196.5 464.7,1197.6 467.0,1197.3 469.3,1195.1 471.6,1193.1 473.9,1193.2 476.2,1199.2 478.5,1197.5 480.8,1194.0 483.1,1192.2 485.4,1193.9 487.7,1195.4 490.0,1198.3 492.3,1197.3 494.6,1191.2 496.9,1195.9 499.2,1193.3 501.5,1193.7 503.8,1194.4 506.1,1196.1 508.4,1194.6 510.7,1182.7 513.0,1195.2 515.3,1194.4 517.6,1188.4 519.9,1189.5 522.2,1188.0 524.5,1182.3 526.8,1197.7 529.1,1189.1 531.4,1187.4 533.7,1192.2 536.0,1191.1 538.3,1190.5 540.0,1187.2 540.6,1188.6 542.9,1190.5 545.2,1190.1 547.5,1192.5 549.8,1191.0 552.1,1191.0 554.4,1191.0 556.7,1190.1 559.0,1190.4 561.3,1193.6 563.6,1191.2 565.9,1191.6 568.2,1187.5 570.5,1191.8 572.8,1186.4 575.1,1186.1 577.4,1194.1 579.7,1192.6 582.0,1190.4 584.3,1188.4 586.6,1190.6 588.9,1188.4 591.2,1192.6 593.5,1186.9 595.8,1187.6 598.1,1181.1 600.0,1184.8 600.4,1181.4 602.7,1185.5 605.0,1187.6 607.3,1188.0 609.6,1186.8 611.9,1181.6 614.2,1186.5 616.5,1188.1 618.8,1188.2 621.1,1177.3 623.4,1182.3 625.7,1179.2 628.0,1181.0 630.3,1177.1 632.6,1181.5 634.9,1180.7 637.2,1183.9 639.5,1183.8 641.8,1180.3 644.1,1178.2 646.4,1175.7 648.7,1182.2 651.0,1183.3 652.0,1184.0 653.3,1185.2 655.6,1187.6 657.9,1191.2 659.0,1194.8 660.2,1214.4 662.5,1256.3 663.0,1265.2 664.8,1213.0 666.0,1178.2 667.1,1166.8 669.4,1142.6 671.7,1118.9 672.0,1115.8 674.0,1109.3 676.3,1103.4 678.6,1095.0 680.9,1093.7 683.2,1087.9 685.5,1084.2 687.8,1077.8 688.0,1068.2 690.1,1079.9 692.4,1079.3 694.7,1079.3 697.0,1078.2 699.3,1066.1 701.6,1075.9 703.9,1069.4 706.2,1073.6 708.5,1077.1 710.8,1077.4 713.1,1070.9 715.4,1072.6 717.7,1065.7 720.0,1075.3 722.3,1073.9 724.6,1077.3 726.9,1075.4 729.2,1072.7 731.5,1075.8 733.8,1073.9 736.1,1074.9 738.4,1074.7 740.7,1071.9 743.0,1074.2 745.3,1072.6 747.6,1069.4 749.9,1073.7 752.2,1071.4 754.5,1072.1 756.8,1069.4 759.1,1063.3 761.4,1070.7 763.7,1075.2 766.0,1071.3 768.3,1070.1 770.6,1073.8 772.9,1072.3 775.2,1069.5 777.5,1062.7 779.8,1062.1 780.0,1069.1 782.1,1071.2 784.4,1067.4 786.7,1067.9 789.0,1069.3 791.3,1068.8 793.6,1071.2 795.9,1065.4 798.2,1067.0 800.5,1069.8 802.8,1066.4 805.1,1068.5 807.4,1067.3 809.7,1067.9 812.0,1067.6 814.3,1065.3 816.6,1068.2 818.9,1067.1 821.2,1062.1 823.5,1066.1 825.8,1068.6 828.1,1068.7 830.4,1068.3 832.7,1055.4 835.0,1066.0 837.3,1066.6 839.6,1064.4 841.9,1066.4 844.2,1065.2 846.5,1064.4 848.8,1061.5 851.1,1065.0 853.4,1065.0 855.7,1065.5 858.0,1064.0 860.3,1064.2 862.6,1067.2 864.9,1064.9 867.2,1062.3 869.5,1057.1 871.8,1063.2 874.1,1062.0 876.4,1061.8 878.0,1062.0 878.0,1081.9 876.4,1079.6 874.1,1082.6 871.8,1084.3 869.5,1083.8 867.2,1082.4 864.9,1084.2 862.6,1085.2 860.3,1082.8 858.0,1082.7 855.7,1083.6 853.4,1083.5 851.1,1087.0 848.8,1081.0 846.5,1083.7 844.2,1096.0 841.9,1089.6 839.6,1083.0 837.3,1083.3 835.0,1084.5 832.7,1082.0 830.4,1084.8 828.1,1086.2 825.8,1084.9 823.5,1086.3 821.2,1085.7 818.9,1093.5 816.6,1085.2 814.3,1083.6 812.0,1085.7 809.7,1085.7 807.4,1088.5 805.1,1085.6 802.8,1085.6 800.5,1091.1 798.2,1087.5 795.9,1088.7 793.6,1088.9 791.3,1092.5 789.0,1095.8 786.7,1088.0 784.4,1085.4 782.1,1096.0 780.0,1088.2 779.8,1093.3 777.5,1087.5 775.2,1089.7 772.9,1090.0 770.6,1096.8 768.3,1093.5 766.0,1089.1 763.7,1102.4 761.4,1088.5 759.1,1086.0 756.8,1087.7 754.5,1087.9 752.2,1097.7 749.9,1090.8 747.6,1091.4 745.3,1092.0 743.0,1095.3 740.7,1090.2 738.4,1091.8 736.1,1096.2 733.8,1093.7 731.5,1093.9 729.2,1092.5 726.9,1098.4 724.6,1097.8 722.3,1096.8 720.0,1092.3 717.7,1090.7 715.4,1093.6 713.1,1092.9 710.8,1104.0 708.5,1098.1 706.2,1096.9 703.9,1093.4 701.6,1093.9 699.3,1104.8 697.0,1096.1 694.7,1096.5 692.4,1098.1 690.1,1102.6 688.0,1093.5 687.8,1101.3 685.5,1105.0 683.2,1106.4 680.9,1111.4 678.6,1114.8 676.3,1118.0 674.0,1120.7 672.0,1123.8 671.7,1126.5 669.4,1148.8 667.1,1171.3 666.0,1181.8 664.8,1216.6 663.0,1268.8 662.5,1261.3 660.2,1225.2 659.0,1206.5 657.9,1206.7 655.6,1204.6 653.3,1201.4 652.0,1202.4 651.0,1208.6 648.7,1204.1 646.4,1198.6 644.1,1207.9 641.8,1199.6 639.5,1202.6 637.2,1208.9 634.9,1204.8 632.6,1197.6 630.3,1198.2 628.0,1201.9 625.7,1202.1 623.4,1203.0 621.1,1207.6 618.8,1209.5 616.5,1204.9 614.2,1205.6 611.9,1208.8 609.6,1203.0 607.3,1206.1 605.0,1218.1 602.7,1211.3 600.4,1203.2 600.0,1206.7 598.1,1207.4 595.8,1204.1 593.5,1205.0 591.2,1211.8 588.9,1206.1 586.6,1208.7 584.3,1205.6 582.0,1210.9 579.7,1211.4 577.4,1211.0 575.1,1208.9 572.8,1206.4 570.5,1212.7 568.2,1212.4 565.9,1211.5 563.6,1213.2 561.3,1211.6 559.0,1207.8 556.7,1210.0 554.4,1211.5 552.1,1210.2 549.8,1211.2 547.5,1211.6 545.2,1209.7 542.9,1213.5 540.6,1209.6 540.0,1206.6 538.3,1219.3 536.0,1209.9 533.7,1214.5 531.4,1208.5 529.1,1210.0 526.8,1215.3 524.5,1210.3 522.2,1218.8 519.9,1220.3 517.6,1209.7 515.3,1212.8 513.0,1211.7 510.7,1212.1 508.4,1211.5 506.1,1217.6 503.8,1225.7 501.5,1219.5 499.2,1210.6 496.9,1213.7 494.6,1224.6 492.3,1214.3 490.0,1223.1 487.7,1212.4 485.4,1212.6 483.1,1214.8 480.8,1214.1 478.5,1217.1 476.2,1219.6 473.9,1214.9 471.6,1214.2 469.3,1216.3 467.0,1218.1 464.7,1215.1 462.4,1213.9 460.1,1220.9 457.8,1215.4 455.5,1222.8 453.2,1220.7 450.9,1218.0 448.6,1217.4 446.3,1219.0 444.0,1215.1 441.7,1219.8 440.0,1220.1 439.4,1226.1 437.1,1223.6 434.8,1216.9 432.5,1216.1 430.2,1225.6 427.9,1218.8 425.6,1217.5 423.3,1222.5 421.0,1222.0 418.7,1221.6 416.4,1220.2 414.1,1220.7 411.8,1223.7 409.5,1224.2 407.2,1225.8 404.9,1227.8 402.6,1226.4 400.3,1224.7 398.0,1225.9 395.7,1222.1 393.4,1224.0 391.1,1225.6 388.8,1233.4 386.5,1226.5 384.2,1227.1 381.9,1227.7 379.6,1238.8 377.3,1229.0 375.0,1231.3 372.7,1234.3 370.4,1237.2 368.1,1229.7 365.8,1229.6 363.5,1231.7 361.2,1226.3 358.9,1230.3 356.6,1229.9 354.3,1230.1 352.0,1234.8 349.7,1231.9 347.4,1234.2 345.1,1242.7 342.8,1231.2 340.5,1228.4 338.2,1232.9 335.9,1237.9 333.6,1231.8 331.3,1229.9 329.0,1233.2 326.7,1242.8 324.4,1234.0 323.0,1231.7 322.1,1232.2 319.8,1232.0 317.5,1231.8 315.2,1242.2 312.9,1235.8 310.6,1233.3 308.3,1239.5 306.0,1241.1 303.7,1246.1 301.4,1239.7 299.1,1238.5 296.8,1239.1 294.5,1239.0 292.2,1240.9 289.9,1238.6 288.0,1239.7 287.6,1238.3 285.3,1247.3 283.0,1234.6 280.7,1239.3 278.4,1241.8 276.1,1236.6 273.8,1237.5 271.5,1245.6 269.2,1237.9 266.9,1238.3 264.6,1237.2 262.3,1235.4 262.0,1238.4 260.0,1245.7 257.7,1234.0 255.4,1246.5 253.1,1239.8 250.8,1243.9 248.5,1245.4 246.2,1244.6 245.0,1245.1 243.9,1248.3 241.6,1253.2 239.3,1247.9 237.0,1248.2 234.7,1255.3 232.4,1252.4 230.1,1254.5 227.8,1254.0 225.5,1254.0 223.2,1252.8 220.9,1256.6 219.0,1256.2 218.6,1258.0 216.3,1266.9 214.0,1257.6 211.7,1254.8 209.4,1257.2 207.1,1266.9 204.8,1260.2 202.5,1263.7 200.2,1259.4 197.9,1258.2 195.6,1272.2 193.3,1262.7 191.0,1272.2 188.7,1266.1 186.4,1262.8 184.1,1260.6 184.0,1265.2 181.8,1261.4 179.5,1267.1 177.2,1272.0 174.9,1269.3 172.6,1267.4 170.3,1271.7 168.0,1271.9 165.7,1274.9 163.4,1271.8 161.1,1271.8 158.8,1285.8 156.5,1277.8 154.2,1279.0 151.9,1282.9 150.0,1285.0 149.6,1286.7 147.3,1273.6 145.0,1272.1 142.7,1271.8 140.4,1268.3 138.1,1261.5 135.8,1258.3 134.0,1255.4 133.5,1250.5 131.2,1229.6 128.9,1209.6 128.0,1201.8 126.6,1166.8 124.3,1109.3 124.0,1101.8 122.0,1007.8" fill="#808080" stroke="#808080" stroke-width="2.6" stroke-linejoin="round"/>
<polygon points="89.0,1000.3 91.3,999.1 93.6,997.6 95.9,996.3 98.2,996.0 100.5,994.3 102.8,998.2 105.1,997.1 107.4,998.0 109.7,998.6 112.0,990.2 114.3,998.2 116.6,990.6 118.9,999.3 121.0,996.0 121.2,993.1 122.5,966.2 123.5,1027.5 124.0,1058.2 125.8,1112.2 127.0,1148.2 128.1,1158.6 130.4,1180.1 131.0,1188.5 132.7,1189.1 135.0,1193.9 137.0,1197.2 137.3,1192.1 139.6,1196.6 141.9,1193.8 144.2,1187.4 146.5,1192.8 148.8,1195.4 151.1,1196.4 153.4,1190.3 155.7,1199.4 158.0,1195.9 160.3,1195.6 162.6,1193.4 164.9,1190.8 167.0,1176.8 167.2,1189.2 169.5,1190.0 171.8,1191.1 174.1,1182.8 176.4,1186.9 178.7,1189.1 181.0,1190.9 183.3,1186.7 185.6,1183.7 187.9,1183.9 190.2,1187.8 192.5,1183.2 194.8,1182.3 197.1,1185.9 199.4,1183.2 201.7,1184.2 204.0,1181.0 206.3,1188.0 208.6,1170.2 210.9,1183.9 213.2,1181.9 215.5,1175.1 217.8,1178.1 219.0,1180.4 220.1,1181.1 222.4,1179.9 224.7,1177.2 227.0,1175.7 229.3,1177.6 231.6,1175.7 233.9,1173.1 236.2,1174.5 238.5,1172.9 240.8,1170.7 243.1,1171.1 245.4,1174.2 247.7,1170.0 250.0,1172.8 252.3,1164.6 254.0,1171.5 254.6,1157.6 256.9,1171.4 259.2,1165.6 261.5,1167.1 263.8,1165.7 266.1,1160.0 268.4,1168.3 270.7,1158.1 273.0,1166.0 275.3,1169.1 277.6,1165.2 279.9,1163.2 282.2,1165.2 284.5,1157.3 286.8,1166.1 289.1,1161.3 291.4,1164.9 293.7,1161.4 296.0,1148.0 298.3,1162.8 300.6,1164.4 302.9,1162.9 305.2,1161.1 306.0,1153.4 307.5,1162.8 309.8,1151.7 312.1,1161.8 314.4,1152.7 316.7,1148.4 319.0,1151.8 321.3,1155.3 323.6,1154.7 325.9,1144.8 328.2,1155.8 330.5,1148.5 332.8,1154.3 335.1,1151.5 337.4,1148.4 339.7,1153.3 340.0,1152.2 342.0,1154.0 344.3,1147.2 346.6,1158.0 348.9,1153.9 351.2,1142.9 353.5,1150.9 355.8,1150.5 358.1,1140.5 360.4,1148.2 362.7,1150.5 365.0,1146.5 367.3,1151.5 369.6,1146.7 371.9,1145.1 374.2,1150.7 375.0,1147.5 376.5,1149.1 378.8,1146.3 381.1,1147.8 383.4,1150.7 385.7,1150.8 388.0,1149.6 390.3,1151.9 392.6,1142.3 394.9,1148.2 397.2,1149.5 399.5,1150.2 401.8,1150.2 404.1,1152.5 406.4,1153.3 408.7,1150.4 411.0,1144.6 413.3,1148.4 415.6,1152.5 417.9,1147.8 420.2,1148.7 422.5,1145.7 424.8,1139.7 427.1,1146.5 429.4,1147.3 431.7,1151.9 434.0,1148.5 436.3,1148.7 438.6,1150.9 440.9,1147.4 443.2,1150.1 445.5,1151.4 447.8,1148.4 450.0,1151.7 450.1,1142.4 452.4,1152.6 454.7,1151.1 457.0,1148.7 459.3,1150.3 461.6,1147.1 463.9,1141.6 466.2,1148.9 468.5,1153.2 470.8,1144.1 473.1,1150.3 475.4,1148.8 477.7,1150.7 480.0,1153.0 482.3,1146.1 484.6,1148.5 486.9,1141.1 489.2,1143.4 491.5,1144.2 493.8,1152.0 496.1,1139.4 498.4,1151.3 500.7,1138.8 503.0,1148.1 505.3,1149.3 507.6,1148.3 509.9,1149.5 512.2,1149.6 514.5,1146.9 516.8,1148.9 519.1,1150.9 521.4,1148.9 523.7,1150.8 526.0,1152.8 528.3,1152.2 530.6,1150.1 532.9,1149.0 535.2,1150.1 537.5,1149.7 539.8,1148.5 542.1,1149.1 544.4,1153.1 546.7,1142.4 549.0,1151.0 551.3,1155.3 553.6,1153.7 555.9,1151.3 558.2,1149.5 560.5,1154.6 562.8,1149.2 565.1,1150.2 567.0,1148.7 567.4,1150.3 569.7,1140.7 572.0,1145.6 574.3,1148.2 576.6,1148.0 578.9,1151.1 581.2,1150.0 583.5,1150.2 585.8,1150.0 588.1,1147.6 590.4,1143.2 592.7,1141.1 595.0,1151.0 597.3,1151.6 599.6,1140.2 601.9,1145.8 604.2,1146.3 606.5,1146.8 608.8,1145.1 611.1,1149.5 613.4,1148.1 615.7,1147.8 618.0,1145.4 620.3,1148.3 622.6,1138.3 624.9,1144.7 627.2,1146.4 629.5,1148.7 631.8,1150.2 634.1,1149.9 636.4,1153.0 638.7,1149.2 641.0,1146.7 643.3,1143.6 645.6,1148.5 647.9,1145.4 650.2,1145.0 652.0,1148.6 652.5,1144.9 654.8,1151.0 657.1,1153.9 659.0,1158.9 659.4,1161.2 661.7,1197.1 663.0,1215.2 664.0,1196.0 666.3,1151.7 667.0,1138.2 668.6,1126.3 670.9,1108.9 673.2,1093.0 674.0,1087.0 675.5,1081.8 677.8,1072.0 680.1,1068.6 682.4,1065.7 684.7,1058.9 687.0,1050.2 688.0,1038.4 689.3,1051.2 691.6,1056.6 693.9,1052.5 696.2,1051.9 698.5,1051.4 700.8,1042.5 703.1,1054.9 705.4,1058.3 707.7,1052.3 710.0,1048.7 712.3,1048.8 714.6,1048.6 716.9,1049.3 719.2,1047.1 721.5,1053.7 723.8,1040.8 726.1,1044.9 728.4,1049.7 730.7,1047.8 733.0,1053.4 735.3,1050.3 737.6,1048.8 739.9,1050.0 742.2,1054.0 744.5,1054.7 746.8,1049.5 749.1,1045.7 751.4,1042.0 753.7,1047.4 756.0,1048.7 758.3,1045.5 760.6,1048.0 762.9,1046.8 765.2,1046.3 767.5,1040.1 769.8,1044.1 772.1,1036.4 774.4,1025.6 776.7,1041.8 779.0,1046.3 780.0,1052.8 781.3,1048.3 783.6,1038.9 785.9,1051.0 788.2,1046.7 790.5,1042.3 792.8,1029.0 795.1,1049.4 797.4,1042.8 799.7,1043.6 802.0,1043.8 804.3,1045.2 806.6,1046.5 808.9,1045.4 811.2,1039.7 813.5,1045.8 815.8,1046.7 818.1,1043.6 820.4,1040.9 822.7,1047.3 825.0,1046.5 827.3,1042.6 829.6,1046.9 831.9,1046.9 834.2,1030.4 836.5,1047.8 838.8,1048.8 841.1,1035.4 843.4,1043.7 845.7,1039.1 848.0,1026.0 850.3,1034.8 852.6,1037.0 854.9,1037.9 857.2,1043.3 859.5,1051.5 861.8,1051.1 864.1,1048.4 866.4,1041.4 868.7,1046.3 871.0,1037.7 873.3,1044.6 875.6,1040.7 877.9,1045.8 878.0,1044.6 878.0,1067.6 877.9,1066.1 875.6,1068.5 873.3,1066.9 871.0,1065.6 868.7,1065.5 866.4,1064.7 864.1,1070.2 861.8,1087.3 859.5,1072.8 857.2,1069.3 854.9,1062.9 852.6,1063.9 850.3,1062.3 848.0,1077.8 845.7,1068.8 843.4,1065.3 841.1,1064.2 838.8,1066.4 836.5,1070.4 834.2,1066.1 831.9,1071.4 829.6,1072.9 827.3,1068.7 825.0,1068.2 822.7,1071.6 820.4,1068.9 818.1,1067.0 815.8,1084.0 813.5,1067.2 811.2,1074.1 808.9,1063.8 806.6,1070.6 804.3,1077.2 802.0,1065.3 799.7,1065.7 797.4,1064.4 795.1,1070.7 792.8,1060.2 790.5,1068.7 788.2,1073.4 785.9,1072.8 783.6,1072.2 781.3,1075.0 780.0,1073.2 779.0,1068.2 776.7,1069.8 774.4,1065.6 772.1,1060.6 769.8,1068.3 767.5,1076.8 765.2,1079.5 762.9,1065.9 760.6,1078.6 758.3,1070.2 756.0,1077.4 753.7,1070.4 751.4,1080.1 749.1,1068.9 746.8,1069.4 744.5,1072.4 742.2,1074.8 739.9,1073.2 737.6,1069.6 735.3,1074.5 733.0,1071.8 730.7,1074.3 728.4,1073.9 726.1,1079.4 723.8,1067.9 721.5,1074.9 719.2,1081.1 716.9,1071.3 714.6,1073.4 712.3,1072.4 710.0,1075.5 707.7,1075.9 705.4,1079.6 703.1,1077.4 700.8,1075.6 698.5,1075.4 696.2,1077.4 693.9,1076.6 691.6,1075.3 689.3,1081.6 688.0,1071.4 687.0,1083.9 684.7,1079.6 682.4,1084.3 680.1,1088.8 677.8,1090.7 675.5,1094.4 674.0,1096.4 673.2,1101.4 670.9,1116.3 668.6,1131.3 667.0,1141.8 666.3,1155.3 664.0,1199.5 663.0,1218.8 661.7,1204.0 659.4,1176.9 659.0,1172.6 657.1,1173.2 654.8,1171.2 652.5,1166.6 652.0,1172.8 650.2,1176.9 647.9,1167.7 645.6,1169.9 643.3,1164.5 641.0,1169.6 638.7,1170.3 636.4,1175.7 634.1,1171.2 631.8,1172.7 629.5,1175.4 627.2,1167.9 624.9,1170.1 622.6,1177.5 620.3,1171.3 618.0,1175.2 615.7,1168.5 613.4,1175.9 611.1,1170.5 608.8,1169.3 606.5,1168.7 604.2,1168.0 601.9,1168.6 599.6,1172.4 597.3,1172.9 595.0,1170.0 592.7,1172.9 590.4,1166.0 588.1,1170.4 585.8,1171.7 583.5,1168.8 581.2,1177.7 578.9,1171.5 576.6,1169.8 574.3,1166.3 572.0,1166.4 569.7,1179.9 567.4,1172.2 567.0,1171.3 565.1,1171.9 562.8,1170.5 560.5,1176.3 558.2,1170.3 555.9,1180.7 553.6,1173.4 551.3,1178.6 549.0,1169.5 546.7,1171.7 544.4,1173.8 542.1,1178.5 539.8,1168.7 537.5,1169.4 535.2,1178.1 532.9,1172.3 530.6,1181.0 528.3,1173.3 526.0,1174.1 523.7,1171.4 521.4,1180.7 519.1,1169.1 516.8,1170.0 514.5,1167.5 512.2,1170.6 509.9,1168.7 507.6,1168.9 505.3,1171.1 503.0,1181.8 500.7,1172.5 498.4,1169.5 496.1,1169.7 493.8,1173.1 491.5,1174.3 489.2,1167.1 486.9,1169.5 484.6,1172.3 482.3,1172.9 480.0,1174.3 477.7,1175.4 475.4,1175.8 473.1,1171.9 470.8,1168.5 468.5,1171.9 466.2,1170.5 463.9,1170.1 461.6,1172.4 459.3,1177.8 457.0,1169.7 454.7,1172.8 452.4,1172.8 450.1,1168.0 450.0,1173.5 447.8,1169.7 445.5,1169.6 443.2,1178.1 440.9,1168.5 438.6,1172.5 436.3,1168.3 434.0,1171.9 431.7,1170.0 429.4,1168.3 427.1,1167.7 424.8,1173.4 422.5,1168.8 420.2,1168.3 417.9,1168.2 415.6,1171.3 413.3,1168.3 411.0,1172.6 408.7,1172.4 406.4,1175.2 404.1,1175.6 401.8,1169.5 399.5,1171.2 397.2,1182.1 394.9,1174.7 392.6,1173.7 390.3,1173.4 388.0,1172.5 385.7,1171.4 383.4,1169.7 381.1,1176.4 378.8,1168.8 376.5,1170.3 375.0,1167.2 374.2,1171.4 371.9,1166.4 369.6,1166.5 367.3,1169.7 365.0,1170.9 362.7,1183.1 360.4,1172.9 358.1,1174.3 355.8,1173.5 353.5,1172.2 351.2,1173.4 348.9,1176.6 346.6,1177.2 344.3,1177.2 342.0,1173.2 340.0,1180.7 339.7,1186.8 337.4,1176.9 335.1,1172.3 332.8,1176.6 330.5,1173.1 328.2,1173.8 325.9,1177.7 323.6,1181.7 321.3,1180.1 319.0,1179.3 316.7,1180.2 314.4,1181.5 312.1,1180.4 309.8,1180.3 307.5,1182.7 306.0,1180.8 305.2,1180.5 302.9,1189.4 300.6,1182.8 298.3,1184.8 296.0,1178.5 293.7,1180.0 291.4,1188.6 289.1,1185.0 286.8,1185.3 284.5,1185.4 282.2,1183.9 279.9,1185.4 277.6,1192.7 275.3,1189.4 273.0,1186.6 270.7,1189.7 268.4,1190.0 266.1,1187.5 263.8,1192.4 261.5,1194.4 259.2,1188.0 256.9,1190.6 254.6,1194.4 254.0,1193.0 252.3,1193.0 250.0,1192.5 247.7,1192.3 245.4,1199.4 243.1,1192.9 240.8,1188.4 238.5,1194.9 236.2,1197.5 233.9,1199.3 231.6,1200.0 229.3,1197.2 227.0,1197.4 224.7,1206.1 222.4,1199.2 220.1,1202.3 219.0,1209.5 217.8,1196.8 215.5,1199.7 213.2,1204.1 210.9,1205.7 208.6,1203.2 206.3,1211.5 204.0,1204.5 201.7,1206.2 199.4,1207.0 197.1,1205.6 194.8,1204.5 192.5,1206.0 190.2,1206.2 187.9,1208.6 185.6,1206.1 183.3,1215.0 181.0,1210.8 178.7,1212.0 176.4,1207.9 174.1,1210.9 171.8,1216.0 169.5,1212.3 167.2,1209.9 167.0,1207.3 164.9,1212.6 162.6,1212.5 160.3,1215.4 158.0,1229.4 155.7,1219.8 153.4,1223.0 151.1,1218.8 148.8,1222.6 146.5,1214.2 144.2,1212.9 141.9,1214.5 139.6,1219.0 137.3,1213.9 137.0,1216.2 135.0,1215.1 132.7,1205.3 131.0,1197.3 130.4,1189.1 128.1,1164.2 127.0,1151.8 125.8,1115.8 124.0,1061.8 123.5,1031.1 122.5,969.8 121.2,1009.3 121.0,1014.5 118.9,1021.8 116.6,1021.8 114.3,1017.2 112.0,1017.3 109.7,1018.1 107.4,1016.7 105.1,1016.1 102.8,1017.3 100.5,1015.4 98.2,1018.9 95.9,1024.8 93.6,1018.3 91.3,1017.9 89.0,1021.1" fill="#007a00" stroke="#007a00" stroke-width="2.6" stroke-linejoin="round"/>
<polygon points="122.0,1004.2 124.0,1098.2 124.3,1108.2 126.6,1184.9 127.0,1198.2 128.9,1245.7 131.0,1298.2 131.2,1300.3 133.5,1324.0 135.8,1348.4 136.0,1349.9 138.1,1356.9 140.4,1364.4 142.0,1372.8 142.7,1373.8 145.0,1375.0 147.3,1379.3 149.6,1378.8 150.0,1382.9 151.9,1386.7 154.2,1385.2 156.5,1385.2 158.8,1389.5 161.1,1388.5 163.4,1386.0 165.7,1388.7 168.0,1387.1 170.0,1385.1 170.3,1390.8 172.6,1391.0 174.9,1388.3 177.2,1384.3 179.5,1390.2 181.8,1393.7 184.1,1388.2 186.4,1390.8 188.7,1391.7 191.0,1381.7 193.3,1388.3 195.6,1389.3 197.9,1392.9 200.2,1393.8 202.5,1386.4 204.8,1389.5 207.1,1386.8 209.4,1386.8 211.7,1391.1 214.0,1392.1 216.3,1389.8 218.6,1393.1 220.9,1393.8 223.2,1395.2 225.5,1394.4 227.8,1392.8 230.1,1387.8 232.4,1384.6 234.7,1387.2 237.0,1390.4 239.3,1389.8 241.6,1376.5 243.9,1388.8 246.2,1388.2 248.5,1384.2 250.8,1388.1 253.1,1379.1 255.4,1386.3 257.7,1391.2 260.0,1391.6 262.3,1389.8 264.6,1388.0 266.9,1391.5 269.2,1387.8 271.5,1388.3 273.8,1387.3 276.1,1389.9 278.4,1384.0 280.7,1393.1 283.0,1390.7 285.3,1388.1 287.6,1385.7 289.9,1387.2 292.2,1390.0 294.5,1390.4 296.8,1388.3 299.1,1389.3 300.0,1390.0 301.4,1390.4 303.7,1391.1 306.0,1391.6 308.3,1389.7 310.6,1387.6 312.9,1390.5 315.2,1381.3 317.5,1385.7 319.8,1385.1 322.1,1387.3 324.4,1391.6 326.7,1388.5 329.0,1387.4 331.3,1386.5 333.6,1389.0 335.9,1387.0 338.2,1377.8 340.5,1385.4 342.8,1387.8 345.1,1388.0 347.4,1384.3 349.7,1384.7 352.0,1386.7 354.3,1386.5 356.6,1385.4 358.9,1386.3 361.2,1385.7 363.5,1386.5 365.8,1384.4 368.1,1387.2 370.4,1387.0 372.7,1383.7 375.0,1378.6 377.3,1386.2 379.6,1383.1 381.9,1384.2 384.2,1382.3 386.5,1385.1 388.8,1387.5 391.1,1387.8 393.4,1386.7 395.7,1382.4 398.0,1384.4 400.3,1378.1 402.6,1383.5 404.9,1381.5 407.2,1383.5 409.5,1387.5 411.8,1382.6 414.1,1372.8 416.4,1382.4 418.7,1371.6 421.0,1384.1 423.3,1382.5 425.6,1383.4 427.9,1380.9 430.2,1382.2 432.5,1385.3 434.8,1376.2 437.1,1385.0 439.4,1381.1 441.7,1380.9 444.0,1382.9 446.3,1376.5 448.6,1378.6 450.9,1382.3 453.2,1381.0 455.5,1381.0 457.8,1378.1 460.1,1383.5 462.4,1384.2 464.7,1380.2 467.0,1381.4 469.3,1376.3 471.6,1370.1 473.9,1375.0 476.2,1375.9 478.5,1377.8 480.8,1382.2 483.1,1372.9 485.4,1377.2 487.7,1380.2 490.0,1377.5 492.3,1379.6 494.6,1377.3 496.9,1379.3 499.2,1376.6 500.0,1378.3 501.5,1372.3 503.8,1377.2 506.1,1382.0 508.4,1377.4 510.7,1375.7 513.0,1376.1 515.3,1380.6 517.6,1371.8 519.9,1369.8 522.2,1374.1 524.5,1376.8 526.8,1380.1 529.1,1381.2 531.4,1376.9 533.7,1380.6 536.0,1382.2 538.3,1377.0 540.6,1373.5 542.9,1375.4 545.2,1377.3 547.5,1374.2 549.8,1377.0 552.1,1379.2 554.4,1376.2 556.7,1377.5 559.0,1378.2 561.3,1377.5 563.6,1375.2 565.9,1375.7 568.2,1375.4 570.5,1375.8 572.8,1377.8 575.1,1378.9 577.4,1372.0 579.7,1376.9 582.0,1374.4 584.3,1364.6 586.6,1374.6 588.9,1370.1 591.2,1371.0 593.5,1367.1 595.8,1368.7 598.1,1376.2 600.4,1370.8 602.7,1374.4 605.0,1372.5 607.3,1373.7 609.6,1372.6 611.9,1372.6 614.2,1368.3 616.5,1371.4 618.8,1366.2 621.1,1371.6 623.4,1369.6 625.7,1369.5 628.0,1371.1 630.3,1370.5 632.6,1372.3 634.9,1371.9 637.2,1371.1 639.5,1369.3 640.0,1371.9 641.8,1368.3 644.1,1367.3 646.4,1373.4 648.7,1368.1 651.0,1374.7 653.3,1375.5 655.6,1374.8 657.0,1374.7 657.9,1391.6 660.2,1432.9 660.5,1438.2 662.5,1500.2 664.0,1418.2 664.8,1394.2 667.1,1325.2 668.0,1298.2 669.4,1285.9 671.7,1266.3 674.0,1242.6 675.0,1236.5 676.3,1234.1 678.6,1227.0 680.9,1222.4 683.2,1218.4 685.5,1207.7 687.8,1210.7 688.0,1207.5 690.1,1205.3 692.4,1199.0 694.7,1202.5 697.0,1204.2 699.3,1194.4 701.6,1202.0 703.9,1198.9 706.2,1197.5 708.5,1194.3 710.8,1195.8 713.1,1193.0 715.4,1193.5 717.7,1194.4 720.0,1194.5 722.3,1186.7 724.6,1189.0 726.9,1180.5 729.2,1188.3 731.5,1188.2 733.8,1187.2 736.1,1179.2 738.4,1184.5 740.0,1181.4 740.7,1179.1 743.0,1182.2 745.3,1180.8 747.6,1181.0 749.9,1180.7 752.2,1171.3 754.5,1178.9 756.8,1179.7 759.1,1179.5 761.4,1172.0 763.7,1172.6 766.0,1177.0 768.3,1175.2 770.6,1175.5 772.9,1174.8 775.2,1173.8 777.5,1169.9 779.8,1176.2 782.1,1174.3 784.4,1171.2 786.7,1167.3 789.0,1173.8 791.3,1171.8 793.6,1170.8 795.9,1173.3 798.2,1161.2 800.5,1172.1 802.8,1170.1 805.1,1170.1 807.4,1169.1 809.7,1165.1 812.0,1164.6 813.0,1157.5 814.3,1166.0 816.6,1170.2 818.9,1162.9 821.2,1166.8 823.5,1165.4 825.8,1166.2 828.1,1170.6 830.4,1168.4 832.7,1168.0 835.0,1170.0 837.3,1174.1 839.6,1172.2 841.9,1165.5 844.2,1171.2 846.5,1172.6 848.8,1175.1 850.0,1171.6 851.1,1171.3 853.4,1170.7 855.7,1169.2 858.0,1175.3 860.3,1174.9 862.6,1173.5 864.9,1178.1 867.2,1181.0 869.5,1178.9 871.8,1180.9 874.1,1174.1 876.4,1180.3 878.0,1180.0 878.0,1201.0 876.4,1202.4 874.1,1201.2 871.8,1200.1 869.5,1200.6 867.2,1199.9 864.9,1199.6 862.6,1200.1 860.3,1203.9 858.0,1199.3 855.7,1194.5 853.4,1191.0 851.1,1196.1 850.0,1194.2 848.8,1194.7 846.5,1193.0 844.2,1196.6 841.9,1193.6 839.6,1195.4 837.3,1196.0 835.0,1192.0 832.7,1190.6 830.4,1189.4 828.1,1190.6 825.8,1186.6 823.5,1185.6 821.2,1187.3 818.9,1190.2 816.6,1189.5 814.3,1189.9 813.0,1188.4 812.0,1190.0 809.7,1200.3 807.4,1194.0 805.1,1192.7 802.8,1194.9 800.5,1192.7 798.2,1192.1 795.9,1193.6 793.6,1201.6 791.3,1195.0 789.0,1193.1 786.7,1198.2 784.4,1193.0 782.1,1197.2 779.8,1200.4 777.5,1194.2 775.2,1195.3 772.9,1196.0 770.6,1198.2 768.3,1203.0 766.0,1200.2 763.7,1197.0 761.4,1197.4 759.1,1204.2 756.8,1202.8 754.5,1199.6 752.2,1196.3 749.9,1202.7 747.6,1202.5 745.3,1204.1 743.0,1204.2 740.7,1212.5 740.0,1201.8 738.4,1205.2 736.1,1215.2 733.8,1208.1 731.5,1219.6 729.2,1208.0 726.9,1207.7 724.6,1220.2 722.3,1210.0 720.0,1216.7 717.7,1213.6 715.4,1222.2 713.1,1218.7 710.8,1215.7 708.5,1219.5 706.2,1219.5 703.9,1221.1 701.6,1223.8 699.3,1226.7 697.0,1225.4 694.7,1232.2 692.4,1230.5 690.1,1226.1 688.0,1226.5 687.8,1231.5 685.5,1234.9 683.2,1240.1 680.9,1245.4 678.6,1246.8 676.3,1253.7 675.0,1251.3 674.0,1261.4 671.7,1277.0 669.4,1291.8 668.0,1301.8 667.1,1328.8 664.8,1397.8 664.0,1421.8 662.5,1503.8 660.5,1441.8 660.2,1437.5 657.9,1405.1 657.0,1395.0 655.6,1391.1 653.3,1393.1 651.0,1395.7 648.7,1393.5 646.4,1393.0 644.1,1388.1 641.8,1392.1 640.0,1392.3 639.5,1391.5 637.2,1398.0 634.9,1392.2 632.6,1393.2 630.3,1392.2 628.0,1394.2 625.7,1398.4 623.4,1392.1 621.1,1393.8 618.8,1396.5 616.5,1394.7 614.2,1395.1 611.9,1395.1 609.6,1393.0 607.3,1396.4 605.0,1394.0 602.7,1396.7 600.4,1395.7 598.1,1401.8 595.8,1398.0 593.5,1406.0 591.2,1393.9 588.9,1391.6 586.6,1398.0 584.3,1395.9 582.0,1396.5 579.7,1397.2 577.4,1400.8 575.1,1404.2 572.8,1397.0 570.5,1399.6 568.2,1398.5 565.9,1398.5 563.6,1397.9 561.3,1402.1 559.0,1398.9 556.7,1398.3 554.4,1401.4 552.1,1399.4 549.8,1400.8 547.5,1396.6 545.2,1397.9 542.9,1398.8 540.6,1396.7 538.3,1398.8 536.0,1401.5 533.7,1401.5 531.4,1399.5 529.1,1401.9 526.8,1399.3 524.5,1399.4 522.2,1398.0 519.9,1400.1 517.6,1402.6 515.3,1401.1 513.0,1400.3 510.7,1397.9 508.4,1402.4 506.1,1401.1 503.8,1403.3 501.5,1404.1 500.0,1398.8 499.2,1400.5 496.9,1399.9 494.6,1401.3 492.3,1403.1 490.0,1398.5 487.7,1404.9 485.4,1397.9 483.1,1400.8 480.8,1401.9 478.5,1400.7 476.2,1397.6 473.9,1398.4 471.6,1400.7 469.3,1400.3 467.0,1402.7 464.7,1401.4 462.4,1405.6 460.1,1404.2 457.8,1406.1 455.5,1401.5 453.2,1403.0 450.9,1402.4 448.6,1398.4 446.3,1400.0 444.0,1405.1 441.7,1402.2 439.4,1402.2 437.1,1405.7 434.8,1404.3 432.5,1407.0 430.2,1411.9 427.9,1403.7 425.6,1408.0 423.3,1403.3 421.0,1404.4 418.7,1405.0 416.4,1402.0 414.1,1410.7 411.8,1404.8 409.5,1408.7 407.2,1409.5 404.9,1405.6 402.6,1407.3 400.3,1407.6 398.0,1406.4 395.7,1403.6 393.4,1407.8 391.1,1409.1 388.8,1409.0 386.5,1404.6 384.2,1402.5 381.9,1406.1 379.6,1409.3 377.3,1409.1 375.0,1402.4 372.7,1404.6 370.4,1408.3 368.1,1409.1 365.8,1407.0 363.5,1407.2 361.2,1406.4 358.9,1407.4 356.6,1407.8 354.3,1411.3 352.0,1409.3 349.7,1406.0 347.4,1413.0 345.1,1410.7 342.8,1418.8 340.5,1413.8 338.2,1407.7 335.9,1413.6 333.6,1409.1 331.3,1418.3 329.0,1407.8 326.7,1410.6 324.4,1412.0 322.1,1409.1 319.8,1407.4 317.5,1407.6 315.2,1410.7 312.9,1418.9 310.6,1406.8 308.3,1410.7 306.0,1411.8 303.7,1411.6 301.4,1412.9 300.0,1413.0 299.1,1410.8 296.8,1408.8 294.5,1410.5 292.2,1412.4 289.9,1410.4 287.6,1407.1 285.3,1408.6 283.0,1413.0 280.7,1412.4 278.4,1410.9 276.1,1410.3 273.8,1410.8 271.5,1415.8 269.2,1410.6 266.9,1421.7 264.6,1412.1 262.3,1413.7 260.0,1412.1 257.7,1411.9 255.4,1409.6 253.1,1407.1 250.8,1413.7 248.5,1412.7 246.2,1411.4 243.9,1412.6 241.6,1406.9 239.3,1410.2 237.0,1409.7 234.7,1407.9 232.4,1418.6 230.1,1424.8 227.8,1413.8 225.5,1416.7 223.2,1417.5 220.9,1413.1 218.6,1416.0 216.3,1415.2 214.0,1411.8 211.7,1410.4 209.4,1409.7 207.1,1410.3 204.8,1413.5 202.5,1411.3 200.2,1414.3 197.9,1412.2 195.6,1410.2 193.3,1409.6 191.0,1406.6 188.7,1412.9 186.4,1411.6 184.1,1410.8 181.8,1418.4 179.5,1418.5 177.2,1422.2 174.9,1409.9 172.6,1411.2 170.3,1413.5 170.0,1417.4 168.0,1410.3 165.7,1417.3 163.4,1407.2 161.1,1411.8 158.8,1408.6 156.5,1406.7 154.2,1405.5 151.9,1410.9 150.0,1406.5 149.6,1400.7 147.3,1398.6 145.0,1394.9 142.7,1389.5 142.0,1387.8 140.4,1379.9 138.1,1371.4 136.0,1359.8 135.8,1357.0 133.5,1331.0 131.2,1304.1 131.0,1301.8 128.9,1249.3 127.0,1201.8 126.6,1188.5 124.3,1111.8 124.0,1101.8 122.0,1007.8" fill="#000000" stroke="#000000" stroke-width="2.6" stroke-linejoin="round"/>
<polygon points="89.0,989.8 91.3,996.7 93.6,992.8 95.9,993.3 98.2,996.1 100.5,991.8 102.8,987.6 105.1,992.3 107.4,990.5 109.7,993.3 112.0,990.7 114.3,991.9 116.6,992.8 118.9,994.0 121.0,995.0 121.2,986.6 122.5,966.2 123.5,997.2 124.5,1028.2 125.8,1035.6 128.0,1048.2 128.1,1047.7 130.4,1034.5 132.7,1025.4 133.0,1020.7 135.0,1019.4 137.3,1012.8 139.6,1009.7 140.0,1004.5 141.9,1011.7 144.2,1009.7 146.5,1012.5 148.8,1012.3 151.1,1007.3 153.4,1007.2 155.7,1006.7 158.0,1005.6 160.3,1007.3 162.6,1008.6 164.9,1008.3 167.2,1007.1 169.5,1007.0 171.8,1008.3 174.1,1009.3 176.4,1012.3 178.7,1010.7 181.0,1010.1 183.3,1012.4 185.6,1008.5 187.9,1007.1 190.2,1006.8 192.5,1006.9 194.8,1005.2 197.1,1003.1 199.4,1008.1 201.7,1007.6 204.0,1007.9 206.3,1012.9 208.6,1007.2 210.9,1007.2 213.2,1009.4 215.5,1010.6 217.8,1013.5 220.1,1005.6 222.4,1005.9 224.7,1010.2 227.0,1013.2 229.3,1007.3 231.6,1009.9 233.9,1010.4 236.2,1010.7 238.5,1010.1 240.8,1006.7 243.1,1005.2 245.4,1008.8 247.7,1005.1 250.0,1007.4 252.3,1010.0 254.6,1010.2 256.9,1013.0 259.2,1012.8 261.5,1011.7 263.8,1012.2 266.1,1005.4 268.4,1007.3 270.7,1005.5 273.0,1007.7 275.3,1004.6 277.6,1011.3 279.9,1006.2 282.2,1008.9 284.5,1009.5 286.8,1009.7 289.1,1001.2 291.4,1006.9 293.7,1007.0 296.0,1003.1 298.3,1012.1 300.6,1005.8 302.9,1010.3 305.2,1008.2 307.5,1011.7 309.8,1010.7 312.1,1009.9 314.4,1007.0 316.7,1007.5 319.0,1009.1 321.3,1007.7 323.6,1008.3 325.9,1008.3 328.2,1011.1 330.5,1008.6 332.8,1008.3 335.1,1005.8 337.4,1002.5 339.7,1008.8 342.0,1005.8 344.3,1011.7 346.6,1008.3 348.9,1003.7 351.2,1009.1 353.5,1012.7 355.8,1009.0 358.1,1007.0 360.4,1009.2 362.7,1005.2 365.0,999.8 367.3,1010.0 369.6,1011.5 371.9,1010.4 374.2,1011.6 376.5,1008.0 378.8,1009.2 381.1,1009.6 383.4,1005.9 385.7,1007.5 388.0,1007.8 390.3,1009.6 392.6,1011.1 394.9,1008.3 397.2,1008.0 399.5,1007.0 401.8,1007.2 404.1,1012.8 406.4,1005.9 408.7,1009.4 411.0,1001.5 413.3,999.7 415.6,1007.0 417.9,1011.0 420.2,1013.1 422.5,1006.4 424.8,1004.6 427.1,1007.8 429.4,1008.7 431.7,1007.0 434.0,1012.2 436.3,1009.3 438.6,1008.4 440.9,1003.4 443.2,1008.5 445.5,1008.8 447.8,1012.8 450.1,1004.7 452.4,1002.1 454.7,1008.5 457.0,1006.0 459.3,1009.5 461.6,1008.6 463.9,1006.7 466.2,1010.7 468.5,1010.6 470.8,1009.9 473.1,1010.6 475.4,1001.4 477.7,1001.5 480.0,1008.9 482.3,1010.0 484.6,1007.3 486.9,1009.7 489.2,1006.5 491.5,1007.7 493.8,1011.3 496.1,1010.4 498.4,1009.1 500.0,1004.4 500.7,1007.9 503.0,1006.7 505.3,1007.2 507.6,1007.9 509.9,1010.8 512.2,1007.6 514.5,1001.3 516.8,1007.3 519.1,1006.8 521.4,1008.1 523.7,1005.3 526.0,1007.5 528.3,1008.7 530.6,1009.0 532.9,1011.8 535.2,1009.0 537.5,1009.7 539.8,1010.6 542.1,1003.6 544.4,1011.6 546.7,1006.0 549.0,1010.4 551.3,1012.2 553.6,1006.7 555.9,1001.9 558.2,1008.5 560.5,1007.9 562.8,1009.1 565.1,1010.2 567.4,1011.9 569.7,1011.9 572.0,1012.1 574.3,1010.4 576.6,1010.4 578.9,1012.7 581.2,1010.1 583.5,1011.1 585.8,1009.1 588.1,1009.5 590.4,1011.5 592.7,1015.9 595.0,1013.7 597.3,1012.4 599.6,1016.6 601.9,1011.9 604.2,1000.8 606.5,1009.3 608.8,1009.2 611.1,1011.1 613.4,1014.3 615.7,1010.7 618.0,1011.0 620.0,1011.8 620.3,1005.9 622.6,1008.5 624.9,1013.5 627.2,1016.3 629.5,1016.5 631.8,1013.8 634.1,1014.7 636.4,1013.7 638.7,1016.6 641.0,1015.4 643.3,1015.1 645.6,1018.8 647.9,1020.4 650.2,1018.8 652.5,1017.1 654.8,1014.3 657.1,1018.6 659.4,1022.3 661.7,1014.4 664.0,1017.7 666.3,1021.3 668.6,1027.5 669.0,1023.2 670.9,1024.3 673.2,1020.1 675.5,1019.4 677.8,1022.3 680.1,1020.6 682.4,1021.8 684.7,1010.3 687.0,1019.5 689.3,1019.3 691.6,1021.4 693.9,1019.3 696.2,1018.2 698.5,1022.1 700.8,1019.7 703.1,1017.1 705.4,1020.3 707.7,1020.5 710.0,1018.6 712.3,1014.6 714.6,1013.4 716.9,1013.5 719.2,1012.9 721.5,1017.9 723.8,1020.1 726.1,1014.4 728.4,1014.5 730.7,1015.3 733.0,1012.0 735.3,1011.9 737.6,1010.0 739.9,1016.4 740.0,1008.1 742.2,1013.9 744.5,1013.5 746.8,1013.9 749.1,1008.3 751.4,1008.7 753.7,1013.4 756.0,1001.7 758.3,1002.4 760.6,1000.1 762.9,1009.3 765.2,1008.9 767.5,1014.2 769.8,1015.0 772.1,1010.3 774.4,1005.7 776.7,1005.3 779.0,1005.0 781.3,1006.6 783.6,1003.7 785.9,1009.5 788.2,999.1 790.5,1006.5 792.8,1002.9 795.1,1003.3 797.4,1002.6 799.7,1001.6 802.0,998.3 804.3,1005.6 806.6,1003.1 808.9,1003.3 811.2,1003.1 813.0,1002.3 813.5,996.3 815.8,994.8 818.1,993.0 820.4,991.2 822.7,1002.2 825.0,1001.8 827.3,1000.1 829.6,1001.4 831.9,1005.4 834.2,1002.2 836.5,1004.9 838.8,1002.4 841.1,996.8 843.4,998.4 845.7,992.5 848.0,995.3 850.3,1003.6 852.6,1004.6 854.9,1001.5 857.2,1001.4 859.5,1000.5 861.8,1000.1 864.1,999.9 866.4,1003.3 868.7,997.2 871.0,1004.5 873.3,1004.2 875.6,1004.9 877.9,1003.5 878.0,996.6 878.0,1021.4 877.9,1022.6 875.6,1026.7 873.3,1023.5 871.0,1023.4 868.7,1032.1 866.4,1024.8 864.1,1020.0 861.8,1020.5 859.5,1022.5 857.2,1022.1 854.9,1030.0 852.6,1028.0 850.3,1026.0 848.0,1021.7 845.7,1024.8 843.4,1019.1 841.1,1022.2 838.8,1027.2 836.5,1022.5 834.2,1020.9 831.9,1023.6 829.6,1025.0 827.3,1022.0 825.0,1025.8 822.7,1023.2 820.4,1021.1 818.1,1021.9 815.8,1023.9 813.5,1022.1 813.0,1019.7 811.2,1022.2 808.9,1022.4 806.6,1023.6 804.3,1026.4 802.0,1025.9 799.7,1023.5 797.4,1020.2 795.1,1022.6 792.8,1027.1 790.5,1024.8 788.2,1022.7 785.9,1029.3 783.6,1028.2 781.3,1035.2 779.0,1024.6 776.7,1024.8 774.4,1030.3 772.1,1030.0 769.8,1033.1 767.5,1032.2 765.2,1027.2 762.9,1030.2 760.6,1029.1 758.3,1029.8 756.0,1036.2 753.7,1031.7 751.4,1036.2 749.1,1034.1 746.8,1035.8 744.5,1031.2 742.2,1040.3 740.0,1034.1 739.9,1034.2 737.6,1031.8 735.3,1030.9 733.0,1034.6 730.7,1035.6 728.4,1044.0 726.1,1037.4 723.8,1039.0 721.5,1035.0 719.2,1032.3 716.9,1031.8 714.6,1033.1 712.3,1036.2 710.0,1038.2 707.7,1041.8 705.4,1040.6 703.1,1039.2 700.8,1039.4 698.5,1041.1 696.2,1041.0 693.9,1039.1 691.6,1041.1 689.3,1047.4 687.0,1045.1 684.7,1041.0 682.4,1046.6 680.1,1039.9 677.8,1041.4 675.5,1039.4 673.2,1039.0 670.9,1041.6 669.0,1042.9 668.6,1047.2 666.3,1043.2 664.0,1040.8 661.7,1042.7 659.4,1041.0 657.1,1040.5 654.8,1034.5 652.5,1039.0 650.2,1038.2 647.9,1037.9 645.6,1038.9 643.3,1034.2 641.0,1037.5 638.7,1039.2 636.4,1033.0 634.1,1033.2 631.8,1037.1 629.5,1037.3 627.2,1034.9 624.9,1032.9 622.6,1030.8 620.3,1034.5 620.0,1032.4 618.0,1031.6 615.7,1030.1 613.4,1035.7 611.1,1032.8 608.8,1029.0 606.5,1033.4 604.2,1034.4 601.9,1032.0 599.6,1033.7 597.3,1037.6 595.0,1033.3 592.7,1037.8 590.4,1031.0 588.1,1039.0 585.8,1028.5 583.5,1030.6 581.2,1028.6 578.9,1036.4 576.6,1029.8 574.3,1028.8 572.0,1030.3 569.7,1033.6 567.4,1039.1 565.1,1027.6 562.8,1035.8 560.5,1028.8 558.2,1027.7 555.9,1026.2 553.6,1030.5 551.3,1034.3 549.0,1029.8 546.7,1027.3 544.4,1032.0 542.1,1029.7 539.8,1032.3 537.5,1029.0 535.2,1027.2 532.9,1032.9 530.6,1032.4 528.3,1037.8 526.0,1025.9 523.7,1025.5 521.4,1036.6 519.1,1027.6 516.8,1030.4 514.5,1028.9 512.2,1026.7 509.9,1029.5 507.6,1027.7 505.3,1027.0 503.0,1027.2 500.7,1025.9 500.0,1024.1 498.4,1028.6 496.1,1028.4 493.8,1030.8 491.5,1028.8 489.2,1027.0 486.9,1028.9 484.6,1025.1 482.3,1034.7 480.0,1027.9 477.7,1030.4 475.4,1027.3 473.1,1030.1 470.8,1029.6 468.5,1027.4 466.2,1030.3 463.9,1028.7 461.6,1027.5 459.3,1026.3 457.0,1026.5 454.7,1025.7 452.4,1023.7 450.1,1027.8 447.8,1037.6 445.5,1028.6 443.2,1029.3 440.9,1028.1 438.6,1027.7 436.3,1028.8 434.0,1032.0 431.7,1029.9 429.4,1029.2 427.1,1027.1 424.8,1027.5 422.5,1027.0 420.2,1030.8 417.9,1028.7 415.6,1039.8 413.3,1029.0 411.0,1030.7 408.7,1028.5 406.4,1025.8 404.1,1030.2 401.8,1029.9 399.5,1025.1 397.2,1027.4 394.9,1031.7 392.6,1032.7 390.3,1028.0 388.0,1029.1 385.7,1029.1 383.4,1028.8 381.1,1033.0 378.8,1030.3 376.5,1028.7 374.2,1030.2 371.9,1032.4 369.6,1038.0 367.3,1027.5 365.0,1027.9 362.7,1028.1 360.4,1028.7 358.1,1033.2 355.8,1026.9 353.5,1033.3 351.2,1029.2 348.9,1029.1 346.6,1029.2 344.3,1030.5 342.0,1025.6 339.7,1027.5 337.4,1026.8 335.1,1027.1 332.8,1037.0 330.5,1028.2 328.2,1031.8 325.9,1027.4 323.6,1028.7 321.3,1025.8 319.0,1027.9 316.7,1027.7 314.4,1028.3 312.1,1029.5 309.8,1031.7 307.5,1036.0 305.2,1031.3 302.9,1028.7 300.6,1034.4 298.3,1028.9 296.0,1037.0 293.7,1043.5 291.4,1029.6 289.1,1035.3 286.8,1027.6 284.5,1027.4 282.2,1029.3 279.9,1028.0 277.6,1030.6 275.3,1029.2 273.0,1027.8 270.7,1024.6 268.4,1027.6 266.1,1036.2 263.8,1030.9 261.5,1031.6 259.2,1031.7 256.9,1032.1 254.6,1028.2 252.3,1027.9 250.0,1030.1 247.7,1025.1 245.4,1030.3 243.1,1028.9 240.8,1030.2 238.5,1029.2 236.2,1032.4 233.9,1033.2 231.6,1026.9 229.3,1030.4 227.0,1033.8 224.7,1028.6 222.4,1023.8 220.1,1030.2 217.8,1037.6 215.5,1037.0 213.2,1027.2 210.9,1028.7 208.6,1029.8 206.3,1032.5 204.0,1026.5 201.7,1029.8 199.4,1026.9 197.1,1026.0 194.8,1026.8 192.5,1026.8 190.2,1025.5 187.9,1027.9 185.6,1028.1 183.3,1030.7 181.0,1030.0 178.7,1039.6 176.4,1034.5 174.1,1037.1 171.8,1031.4 169.5,1027.3 167.2,1035.9 164.9,1029.9 162.6,1032.0 160.3,1026.7 158.0,1035.6 155.7,1027.3 153.4,1027.9 151.1,1028.2 148.8,1030.7 146.5,1034.3 144.2,1028.4 141.9,1031.3 140.0,1025.8 139.6,1027.8 137.3,1034.0 135.0,1036.5 133.0,1037.2 132.7,1037.4 130.4,1044.7 128.1,1051.5 128.0,1051.8 125.8,1039.2 124.5,1031.8 123.5,1000.8 122.5,969.8 121.2,1008.8 121.0,1013.5 118.9,1013.2 116.6,1014.6 114.3,1011.3 112.0,1007.7 109.7,1013.1 107.4,1013.5 105.1,1017.2 102.8,1012.5 100.5,1011.6 98.2,1013.1 95.9,1014.1 93.6,1023.9 91.3,1018.4 89.0,1013.8" fill="#000000" stroke="#000000" stroke-width="2.6" stroke-linejoin="round"/>
<text x="415" y="994" font-size="42" fill="#262626">Cd<tspan dy="-31" dx="1" font-size="26">2+</tspan></text>
<text x="368" y="1131.5" font-size="42" text-anchor="start" fill="#262626">Nif+F3</text>
<text x="411" y="1265" font-size="42" text-anchor="start" fill="#262626">Nif</text>
<text x="360" y="1452" font-size="42" text-anchor="start" fill="#262626">Control</text>
<path d="M108,1385 L108,1555.5 L214,1555.5" fill="none" stroke="#555" stroke-width="6" stroke-linejoin="round" stroke-linecap="round" stroke-linecap="butt"/>
<text x="122" y="1531" font-size="48" text-anchor="start" fill="#262626" textLength="181" lengthAdjust="spacingAndGlyphs">10 pA/pF</text>
<text x="95" y="1606" font-size="44" text-anchor="start" fill="#262626" letter-spacing="1.5">20 ms</text>
</g>
<g id="panelD">
<text transform="translate(966,923) scale(0.93,1)" font-size="70" fill="#141414">D</text>
<path d="M1114,996 L1144.5,996 L1144.5,1547.5 L2129,1547.5" fill="none" stroke="#3a3a3a" stroke-width="5.5" stroke-linejoin="round" stroke-linecap="round" stroke-linecap="butt" stroke-linejoin="miter"/>
<text x="1100" y="1011.0" font-size="42" text-anchor="end" fill="#262626">0</text>
<line x1="1114" y1="1113.5" x2="1144.5" y2="1113.5" stroke="#333333" stroke-width="4.5" stroke-linecap="butt"/>
<text x="1100" y="1128.5" font-size="42" text-anchor="end" fill="#262626">−<tspan dx="3">5</tspan></text>
<line x1="1114" y1="1231.0" x2="1144.5" y2="1231.0" stroke="#333333" stroke-width="4.5" stroke-linecap="butt"/>
<text x="1100" y="1246.0" font-size="42" text-anchor="end" fill="#262626">−<tspan dx="3">10</tspan></text>
<line x1="1114" y1="1348.5" x2="1144.5" y2="1348.5" stroke="#333333" stroke-width="4.5" stroke-linecap="butt"/>
<text x="1100" y="1363.5" font-size="42" text-anchor="end" fill="#262626">−<tspan dx="3">15</tspan></text>
<line x1="1114" y1="1466.0" x2="1144.5" y2="1466.0" stroke="#333333" stroke-width="4.5" stroke-linecap="butt"/>
<text x="1100" y="1481.0" font-size="42" text-anchor="end" fill="#262626">−<tspan dx="3">20</tspan></text>
<line x1="1170" y1="1547.5" x2="1170" y2="1579" stroke="#333333" stroke-width="4.5" stroke-linecap="butt"/>
<text x="1170" y="1633" font-size="42" text-anchor="middle" fill="#262626">0</text>
<line x1="1383" y1="1547.5" x2="1383" y2="1579" stroke="#333333" stroke-width="4.5" stroke-linecap="butt"/>
<text x="1383" y="1633" font-size="42" text-anchor="middle" fill="#262626">50</text>
<line x1="1596" y1="1547.5" x2="1596" y2="1579" stroke="#333333" stroke-width="4.5" stroke-linecap="butt"/>
<text x="1596" y="1633" font-size="42" text-anchor="middle" fill="#262626">100</text>
<line x1="1809" y1="1547.5" x2="1809" y2="1579" stroke="#333333" stroke-width="4.5" stroke-linecap="butt"/>
<text x="1809" y="1633" font-size="42" text-anchor="middle" fill="#262626">150</text>
<line x1="2022" y1="1547.5" x2="2022" y2="1579" stroke="#333333" stroke-width="4.5" stroke-linecap="butt"/>
<text x="2022" y="1633" font-size="42" text-anchor="middle" fill="#262626">200</text>
<text x="1650" y="1695" font-size="42" text-anchor="middle" fill="#262626">Time (s)</text>
<g transform="translate(966,1381) rotate(-90)" fill="#262626">
<text x="0" y="0" font-size="60">I</text>
<text x="17.5" y="15" font-size="38">Ba</text>
<text x="64.5" y="-14" font-size="28">2+</text>
<text x="104" y="0" font-size="42">(pA/pF)</text>
</g>
<line x1="1236" y1="1167" x2="1884" y2="1167" stroke="#7a7a7a" stroke-width="8" stroke-linecap="butt"/>
<line x1="1510" y1="1116.5" x2="1642" y2="1116.5" stroke="#0a6a0a" stroke-width="8" stroke-linecap="butt"/>
<text x="1246" y="1142" font-size="50" text-anchor="start" fill="#151515">Nif</text>
<text x="1549" y="1101" font-size="50" text-anchor="start" fill="#151515">F3</text>
<text x="1991" y="1370" font-size="42" text-anchor="start" fill="#262626" letter-spacing="0.8">Wash</text>
<text x="2082" y="1101" font-size="42" fill="#262626">Cd<tspan dy="-31" dx="1" font-size="26">2+</tspan></text>
<circle cx="1170.4" cy="1500.7" r="18.3" fill="none" stroke="#555555" stroke-width="2.9"/>
<circle cx="1191.0" cy="1524.5" r="18.3" fill="none" stroke="#555555" stroke-width="2.9"/>
<circle cx="1214.0" cy="1507.5" r="18.3" fill="none" stroke="#555555" stroke-width="2.9"/>
<circle cx="1235.0" cy="1415.6" r="18.3" fill="none" stroke="#555555" stroke-width="2.9"/>
<circle cx="1255.4" cy="1368.0" r="18.3" fill="none" stroke="#555555" stroke-width="2.9"/>
<circle cx="1277.0" cy="1317.0" r="18.3" fill="none" stroke="#555555" stroke-width="2.9"/>
<circle cx="1295.6" cy="1269.4" r="18.3" fill="none" stroke="#555555" stroke-width="2.9"/>
<circle cx="1317.7" cy="1276.0" r="18.3" fill="none" stroke="#555555" stroke-width="2.9"/>
<circle cx="1339.8" cy="1267.7" r="18.3" fill="none" stroke="#555555" stroke-width="2.9"/>
<circle cx="1360.0" cy="1274.5" r="18.3" fill="none" stroke="#555555" stroke-width="2.9"/>
<circle cx="1382.0" cy="1279.6" r="18.3" fill="none" stroke="#555555" stroke-width="2.9"/>
<circle cx="1404.4" cy="1267.7" r="18.3" fill="none" stroke="#555555" stroke-width="2.9"/>
<circle cx="1424.8" cy="1271.0" r="18.3" fill="none" stroke="#555555" stroke-width="2.9"/>
<circle cx="1447.0" cy="1255.8" r="18.3" fill="none" stroke="#555555" stroke-width="2.9"/>
<circle cx="1469.0" cy="1257.5" r="18.3" fill="none" stroke="#555555" stroke-width="2.9"/>
<circle cx="1491.0" cy="1255.8" r="18.3" fill="none" stroke="#555555" stroke-width="2.9"/>
<circle cx="1509.9" cy="1223.5" r="18.3" fill="none" stroke="#555555" stroke-width="2.9"/>
<circle cx="1530.0" cy="1215.0" r="18.3" fill="none" stroke="#555555" stroke-width="2.9"/>
<circle cx="1552.4" cy="1230.0" r="18.3" fill="none" stroke="#555555" stroke-width="2.9"/>
<circle cx="1574.5" cy="1211.6" r="18.3" fill="none" stroke="#555555" stroke-width="2.9"/>
<circle cx="1595.0" cy="1199.7" r="18.3" fill="none" stroke="#555555" stroke-width="2.9"/>
<circle cx="1617.0" cy="1203.0" r="18.3" fill="none" stroke="#555555" stroke-width="2.9"/>
<circle cx="1639.0" cy="1206.5" r="18.3" fill="none" stroke="#555555" stroke-width="2.9"/>
<circle cx="1659.5" cy="1230.6" r="18.3" fill="none" stroke="#555555" stroke-width="2.9"/>
<circle cx="1680.0" cy="1254.4" r="18.3" fill="none" stroke="#555555" stroke-width="2.9"/>
<circle cx="1702.0" cy="1251.0" r="18.3" fill="none" stroke="#555555" stroke-width="2.9"/>
<circle cx="1724.0" cy="1259.5" r="18.3" fill="none" stroke="#555555" stroke-width="2.9"/>
<circle cx="1746.0" cy="1259.5" r="18.3" fill="none" stroke="#555555" stroke-width="2.9"/>
<circle cx="1768.4" cy="1247.6" r="18.3" fill="none" stroke="#555555" stroke-width="2.9"/>
<circle cx="1788.8" cy="1266.0" r="18.3" fill="none" stroke="#555555" stroke-width="2.9"/>
<circle cx="1809.0" cy="1271.4" r="18.3" fill="none" stroke="#555555" stroke-width="2.9"/>
<circle cx="1831.0" cy="1244.0" r="18.3" fill="none" stroke="#555555" stroke-width="2.9"/>
<circle cx="1851.7" cy="1278.0" r="18.3" fill="none" stroke="#555555" stroke-width="2.9"/>
<circle cx="1873.8" cy="1268.0" r="18.3" fill="none" stroke="#555555" stroke-width="2.9"/>
<circle cx="1894.0" cy="1324.0" r="18.3" fill="none" stroke="#555555" stroke-width="2.9"/>
<circle cx="1914.6" cy="1368.4" r="18.3" fill="none" stroke="#555555" stroke-width="2.9"/>
<circle cx="1936.7" cy="1388.8" r="18.3" fill="none" stroke="#555555" stroke-width="2.9"/>
<circle cx="1957.0" cy="1419.4" r="18.3" fill="none" stroke="#555555" stroke-width="2.9"/>
<circle cx="1979.0" cy="1451.7" r="18.3" fill="none" stroke="#555555" stroke-width="2.9"/>
<circle cx="1999.7" cy="1436.4" r="18.3" fill="none" stroke="#555555" stroke-width="2.9"/>
<circle cx="2021.8" cy="1445.0" r="18.3" fill="none" stroke="#555555" stroke-width="2.9"/>
<circle cx="2042.0" cy="1400.7" r="18.3" fill="none" stroke="#555555" stroke-width="2.9"/>
<circle cx="2064.0" cy="1424.5" r="18.3" fill="none" stroke="#555555" stroke-width="2.9"/>
<circle cx="2086.4" cy="1416.0" r="18.3" fill="none" stroke="#555555" stroke-width="2.9"/>
<circle cx="2106.8" cy="1014.6" r="18.3" fill="none" stroke="#555555" stroke-width="2.9"/>
<circle cx="2127.0" cy="1016.0" r="18.3" fill="none" stroke="#555555" stroke-width="2.9"/>
</g>
<g id="panelE">
<text transform="translate(496,1811) scale(0.93,1)" font-size="70" fill="#141414">E</text>
<rect x="692" y="2061" width="304" height="342" fill="#757575"/>
<rect x="1030" y="1941" width="304" height="462" fill="#006400"/>
<rect x="1367.5" y="2226" width="303" height="177" fill="#cc0000"/>
<path d="M844.5,2061 L844.5,2018 M835,2018 L854,2018" fill="none" stroke="#8a8a8a" stroke-width="4" stroke-linejoin="round" stroke-linecap="round" stroke-linecap="butt"/>
<path d="M1181.5,1941 L1181.5,1920 M1172,1920 L1191,1920" fill="none" stroke="#3c9a3c" stroke-width="4" stroke-linejoin="round" stroke-linecap="round" stroke-linecap="butt"/>
<path d="M1517,2226 L1517,2195 M1507.5,2195 L1526.5,2195" fill="none" stroke="#cc2233" stroke-width="4" stroke-linejoin="round" stroke-linecap="round" stroke-linecap="butt"/>
<path d="M644,1894 L675,1894 L675,2438" fill="none" stroke="#3a3a3a" stroke-width="5.5" stroke-linejoin="round" stroke-linecap="round" stroke-linecap="butt" stroke-linejoin="miter"/>
<path d="M675,2406 L1685.5,2406" fill="none" stroke="#444" stroke-width="6" stroke-linejoin="round" stroke-linecap="round" stroke-linecap="butt"/>
<text x="629" y="1909" font-size="42" text-anchor="end" fill="#262626">60</text>
<line x1="644" y1="2063" x2="675" y2="2063" stroke="#333333" stroke-width="4.5" stroke-linecap="butt"/>
<text x="629" y="2078" font-size="42" text-anchor="end" fill="#262626">40</text>
<line x1="644" y1="2232" x2="675" y2="2232" stroke="#333333" stroke-width="4.5" stroke-linecap="butt"/>
<text x="629" y="2247" font-size="42" text-anchor="end" fill="#262626">20</text>
<line x1="644" y1="2401" x2="675" y2="2401" stroke="#333333" stroke-width="4.5" stroke-linecap="butt"/>
<text x="629" y="2416" font-size="42" text-anchor="end" fill="#262626">0</text>
<line x1="1012" y1="2406" x2="1012" y2="2438" stroke="#333333" stroke-width="4.5" stroke-linecap="butt"/>
<line x1="1349" y1="2406" x2="1349" y2="2438" stroke="#333333" stroke-width="4.5" stroke-linecap="butt"/>
<line x1="1685.5" y1="2406" x2="1685.5" y2="2438" stroke="#333333" stroke-width="4.5" stroke-linecap="butt"/>
<text x="844.5" y="2464" font-size="42" text-anchor="middle" fill="#262626">Nif</text>
<text x="1180" y="2464" font-size="42" text-anchor="middle" fill="#262626">Nif+F3</text>
<text x="1518" y="2464" font-size="42" text-anchor="middle" fill="#262626">F3</text>
<text x="1180" y="2556" font-size="42" text-anchor="middle" fill="#262626">Condition</text>
<text transform="translate(527,2342) rotate(-90)" font-size="42" fill="#262626">Current inhibition (%)</text>
<path d="M842.5,1999 L842.5,1888 L1183.5,1888 L1183.5,1905" fill="none" stroke="#555555" stroke-width="6" stroke-linejoin="round" stroke-linecap="round" stroke-linecap="butt" stroke-linejoin="round"/>
<path d="M994,1888 L994,1860 L1515,1860 L1515,2152" fill="none" stroke="#555555" stroke-width="6" stroke-linejoin="round" stroke-linecap="round" stroke-linecap="butt" stroke-linejoin="round"/>
<text x="1256" y="1860" font-size="88" text-anchor="middle" fill="#000" font-weight="bold">*</text>
</g>
</g>
</svg>
</body>
</html>
